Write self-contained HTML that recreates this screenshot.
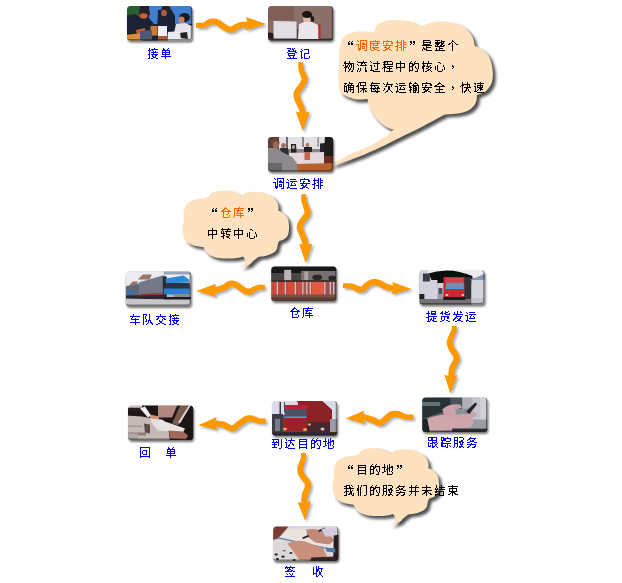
<!DOCTYPE html>
<html><head><meta charset="utf-8"><title>物流流程</title>
<style>
html,body{margin:0;padding:0;background:#fff;}
body{width:622px;height:583px;overflow:hidden;position:relative;font-family:"Liberation Sans",sans-serif;}
svg{position:absolute;left:0;top:0;display:block;}
</style></head><body>
<svg width="622" height="583" viewBox="0 0 622 583">
<defs><path id="q63a5" shape-rendering="crispEdges" d="M2 3h1v1h-1zM7 3h1v1h-1zM2 4h1v1h-1zM4 4h7v1h-7zM1 5h3v1h-3zM5 5h1v1h-1zM2 6h1v1h-1zM6 6h1v1h-1zM8 6h1v1h-1zM2 7h1v1h-1zM4 7h7v1h-7zM2 8h1v1h-1zM6 8h1v1h-1zM1 9h2v1h-2zM4 9h7v1h-7zM2 10h1v1h-1zM5 10h1v1h-1zM8 10h2v1h-2zM2 11h1v1h-1zM5 11h2v1h-2zM8 11h1v1h-1zM2 12h1v1h-1zM6 12h3v1h-3zM1 13h2v1h-2zM4 13h2v1h-2zM9 13h2v1h-2z"/>
<path id="q5355" shape-rendering="crispEdges" d="M3 3h1v1h-1zM8 3h1v1h-1zM3 4h2v1h-2zM7 4h1v1h-1zM2 5h8v1h-8zM2 6h1v1h-1zM5 6h1v1h-1zM9 6h1v1h-1zM2 7h8v1h-8zM2 8h1v1h-1zM5 8h1v1h-1zM9 8h1v1h-1zM2 9h8v1h-8zM5 10h1v1h-1zM1 11h10v1h-10zM5 12h1v1h-1zM5 13h1v1h-1z"/>
<path id="q767b" shape-rendering="crispEdges" d="M1 3h4v1h-4zM6 3h1v1h-1zM8 3h1v1h-1zM4 4h1v1h-1zM6 4h2v1h-2zM2 5h2v1h-2zM7 5h1v1h-1zM9 5h1v1h-1zM2 6h8v1h-8zM1 7h1v1h-1zM9 7h2v1h-2zM2 8h7v1h-7zM2 9h1v1h-1zM8 9h1v1h-1zM2 10h7v1h-7zM3 11h1v1h-1zM7 11h1v1h-1zM4 12h1v1h-1zM7 12h1v1h-1zM1 13h10v1h-10z"/>
<path id="q8bb0" shape-rendering="crispEdges" d="M2 4h1v1h-1zM5 4h5v1h-5zM3 5h1v1h-1zM9 5h1v1h-1zM1 6h2v1h-2zM9 6h1v1h-1zM2 7h1v1h-1zM9 7h1v1h-1zM2 8h1v1h-1zM5 8h5v1h-5zM2 9h1v1h-1zM5 9h1v1h-1zM2 10h1v1h-1zM5 10h1v1h-1zM2 11h1v1h-1zM5 11h1v1h-1zM10 11h1v1h-1zM2 12h2v1h-2zM5 12h1v1h-1zM10 12h1v1h-1zM2 13h1v1h-1zM5 13h5v1h-5z"/>
<path id="q8c03" shape-rendering="crispEdges" d="M1 3h1v1h-1zM4 3h7v1h-7zM2 4h1v1h-1zM4 4h1v1h-1zM10 4h1v1h-1zM4 5h1v1h-1zM7 5h1v1h-1zM10 5h1v1h-1zM4 6h1v1h-1zM6 6h3v1h-3zM10 6h1v1h-1zM0 7h3v1h-3zM4 7h1v1h-1zM6 7h5v1h-5zM2 8h1v1h-1zM4 8h1v1h-1zM10 8h1v1h-1zM2 9h1v1h-1zM4 9h1v1h-1zM6 9h3v1h-3zM10 9h1v1h-1zM2 10h1v1h-1zM4 10h1v1h-1zM6 10h1v1h-1zM8 10h1v1h-1zM10 10h1v1h-1zM2 11h3v1h-3zM6 11h3v1h-3zM10 11h1v1h-1zM2 12h3v1h-3zM10 12h1v1h-1zM3 13h1v1h-1zM8 13h3v1h-3z"/>
<path id="q8fd0" shape-rendering="crispEdges" d="M1 4h1v1h-1zM4 4h6v1h-6zM2 5h1v1h-1zM4 6h7v1h-7zM0 7h3v1h-3zM6 7h1v1h-1zM2 8h1v1h-1zM5 8h1v1h-1zM8 8h1v1h-1zM2 9h1v1h-1zM5 9h1v1h-1zM9 9h1v1h-1zM2 10h1v1h-1zM4 10h6v1h-6zM2 11h1v1h-1zM1 12h3v1h-3zM1 13h1v1h-1zM4 13h7v1h-7z"/>
<path id="q5b89" shape-rendering="crispEdges" d="M5 3h1v1h-1zM1 4h9v1h-9zM1 5h1v1h-1zM9 5h2v1h-2zM1 6h1v1h-1zM4 6h2v1h-2zM9 6h2v1h-2zM4 7h1v1h-1zM1 8h10v1h-10zM3 9h1v1h-1zM7 9h1v1h-1zM2 10h3v1h-3zM6 10h2v1h-2zM4 11h3v1h-3zM3 12h3v1h-3zM7 12h2v1h-2zM1 13h3v1h-3zM9 13h1v1h-1z"/>
<path id="q6392" shape-rendering="crispEdges" d="M2 3h1v1h-1zM6 3h1v1h-1zM8 3h1v1h-1zM2 4h1v1h-1zM6 4h1v1h-1zM8 4h1v1h-1zM1 5h6v1h-6zM8 5h3v1h-3zM2 6h1v1h-1zM6 6h1v1h-1zM8 6h1v1h-1zM2 7h1v1h-1zM5 7h2v1h-2zM8 7h3v1h-3zM2 8h2v1h-2zM6 8h1v1h-1zM8 8h1v1h-1zM0 9h3v1h-3zM6 9h1v1h-1zM8 9h1v1h-1zM2 10h1v1h-1zM4 10h3v1h-3zM8 10h3v1h-3zM2 11h1v1h-1zM6 11h1v1h-1zM8 11h1v1h-1zM2 12h1v1h-1zM6 12h1v1h-1zM8 12h1v1h-1zM1 13h2v1h-2zM6 13h1v1h-1zM8 13h1v1h-1z"/>
<path id="q8f66" shape-rendering="crispEdges" d="M4 3h1v1h-1zM4 4h1v1h-1zM1 5h10v1h-10zM3 6h1v1h-1zM2 7h1v1h-1zM6 7h1v1h-1zM2 8h8v1h-8zM6 9h1v1h-1zM6 10h1v1h-1zM1 11h10v1h-10zM6 12h1v1h-1zM6 13h1v1h-1z"/>
<path id="q961f" shape-rendering="crispEdges" d="M1 3h4v1h-4zM7 3h1v1h-1zM1 4h1v1h-1zM4 4h1v1h-1zM7 4h1v1h-1zM1 5h1v1h-1zM3 5h1v1h-1zM7 5h1v1h-1zM1 6h1v1h-1zM3 6h1v1h-1zM7 6h1v1h-1zM1 7h1v1h-1zM3 7h1v1h-1zM7 7h1v1h-1zM1 8h1v1h-1zM4 8h1v1h-1zM7 8h1v1h-1zM1 9h1v1h-1zM4 9h1v1h-1zM6 9h3v1h-3zM1 10h1v1h-1zM3 10h2v1h-2zM6 10h1v1h-1zM8 10h1v1h-1zM1 11h1v1h-1zM6 11h1v1h-1zM8 11h2v1h-2zM1 12h1v1h-1zM5 12h1v1h-1zM9 12h2v1h-2zM1 13h1v1h-1zM4 13h1v1h-1zM10 13h1v1h-1z"/>
<path id="q4ea4" shape-rendering="crispEdges" d="M5 3h1v1h-1zM5 4h1v1h-1zM1 5h10v1h-10zM3 6h1v1h-1zM7 6h1v1h-1zM2 7h2v1h-2zM8 7h2v1h-2zM1 8h2v1h-2zM7 8h1v1h-1zM9 8h2v1h-2zM4 9h1v1h-1zM7 9h1v1h-1zM4 10h3v1h-3zM5 11h2v1h-2zM3 12h2v1h-2zM7 12h2v1h-2zM1 13h2v1h-2zM9 13h2v1h-2z"/>
<path id="q4ed3" shape-rendering="crispEdges" d="M5 3h1v1h-1zM4 4h3v1h-3zM3 5h2v1h-2zM7 5h1v1h-1zM2 6h2v1h-2zM8 6h2v1h-2zM1 7h10v1h-10zM3 8h1v1h-1zM8 8h1v1h-1zM3 9h1v1h-1zM8 9h1v1h-1zM3 10h1v1h-1zM6 10h2v1h-2zM3 11h1v1h-1zM9 11h1v1h-1zM3 12h1v1h-1zM9 12h1v1h-1zM3 13h6v1h-6z"/>
<path id="q5e93" shape-rendering="crispEdges" d="M6 3h1v1h-1zM1 4h10v1h-10zM1 5h1v1h-1zM5 5h1v1h-1zM1 6h1v1h-1zM3 6h7v1h-7zM1 7h1v1h-1zM4 7h2v1h-2zM1 8h1v1h-1zM4 8h1v1h-1zM7 8h1v1h-1zM1 9h1v1h-1zM3 9h7v1h-7zM1 10h1v1h-1zM7 10h1v1h-1zM1 11h1v1h-1zM3 11h8v1h-8zM1 12h1v1h-1zM7 12h1v1h-1zM0 13h1v1h-1zM7 13h1v1h-1z"/>
<path id="q63d0" shape-rendering="crispEdges" d="M2 3h1v1h-1zM5 3h5v1h-5zM2 4h1v1h-1zM5 4h1v1h-1zM9 4h1v1h-1zM0 5h4v1h-4zM5 5h5v1h-5zM2 6h1v1h-1zM5 6h5v1h-5zM2 7h1v1h-1zM2 8h9v1h-9zM0 9h3v1h-3zM7 9h1v1h-1zM2 10h1v1h-1zM5 10h1v1h-1zM7 10h3v1h-3zM2 11h1v1h-1zM4 11h2v1h-2zM7 11h1v1h-1zM2 12h1v1h-1zM4 12h1v1h-1zM6 12h2v1h-2zM1 13h3v1h-3zM7 13h4v1h-4z"/>
<path id="q8d27" shape-rendering="crispEdges" d="M3 3h1v1h-1zM6 3h1v1h-1zM9 3h1v1h-1zM2 4h2v1h-2zM6 4h3v1h-3zM1 5h3v1h-3zM5 5h2v1h-2zM10 5h1v1h-1zM3 6h1v1h-1zM6 6h5v1h-5zM2 8h8v1h-8zM2 9h1v1h-1zM5 9h1v1h-1zM8 9h2v1h-2zM2 10h1v1h-1zM5 10h1v1h-1zM8 10h2v1h-2zM2 11h1v1h-1zM5 11h1v1h-1zM3 12h2v1h-2zM7 12h2v1h-2zM1 13h2v1h-2zM9 13h2v1h-2z"/>
<path id="q53d1" shape-rendering="crispEdges" d="M5 3h1v1h-1zM8 3h1v1h-1zM2 4h1v1h-1zM5 4h1v1h-1zM8 4h2v1h-2zM2 5h1v1h-1zM5 5h1v1h-1zM1 6h10v1h-10zM4 7h1v1h-1zM4 8h6v1h-6zM3 9h2v1h-2zM8 9h1v1h-1zM2 10h2v1h-2zM5 10h1v1h-1zM7 10h2v1h-2zM1 11h2v1h-2zM6 11h2v1h-2zM1 12h1v1h-1zM5 12h4v1h-4zM3 13h2v1h-2zM9 13h2v1h-2z"/>
<path id="q8ddf" shape-rendering="crispEdges" d="M1 3h9v1h-9zM1 4h1v1h-1zM4 4h2v1h-2zM9 4h1v1h-1zM1 5h1v1h-1zM4 5h2v1h-2zM9 5h1v1h-1zM1 6h9v1h-9zM5 7h1v1h-1zM9 7h1v1h-1zM1 8h1v1h-1zM5 8h5v1h-5zM1 9h1v1h-1zM3 9h3v1h-3zM7 9h1v1h-1zM10 9h1v1h-1zM1 10h1v1h-1zM5 10h1v1h-1zM8 10h2v1h-2zM1 11h1v1h-1zM3 11h1v1h-1zM5 11h1v1h-1zM8 11h1v1h-1zM1 12h3v1h-3zM5 12h3v1h-3zM9 12h1v1h-1zM5 13h2v1h-2zM10 13h1v1h-1z"/>
<path id="q8e2a" shape-rendering="crispEdges" d="M1 3h3v1h-3zM7 3h1v1h-1zM1 4h1v1h-1zM3 4h8v1h-8zM1 5h1v1h-1zM3 5h3v1h-3zM10 5h1v1h-1zM1 6h5v1h-5zM10 6h1v1h-1zM2 7h1v1h-1zM6 7h4v1h-4zM1 8h2v1h-2zM1 9h10v1h-10zM1 10h2v1h-2zM7 10h1v1h-1zM1 11h2v1h-2zM5 11h1v1h-1zM7 11h1v1h-1zM9 11h1v1h-1zM1 12h5v1h-5zM7 12h1v1h-1zM10 12h1v1h-1zM6 13h2v1h-2z"/>
<path id="q670d" shape-rendering="crispEdges" d="M1 3h4v1h-4zM6 3h4v1h-4zM1 4h1v1h-1zM4 4h1v1h-1zM10 4h1v1h-1zM1 5h1v1h-1zM4 5h1v1h-1zM10 5h1v1h-1zM1 6h4v1h-4zM8 6h2v1h-2zM1 7h1v1h-1zM4 7h1v1h-1zM6 7h4v1h-4zM1 8h1v1h-1zM4 8h1v1h-1zM6 8h2v1h-2zM9 8h2v1h-2zM1 9h4v1h-4zM7 9h1v1h-1zM9 9h1v1h-1zM1 10h1v1h-1zM4 10h1v1h-1zM7 10h3v1h-3zM1 11h1v1h-1zM4 11h1v1h-1zM8 11h1v1h-1zM1 12h1v1h-1zM4 12h1v1h-1zM6 12h4v1h-4zM0 13h1v1h-1zM3 13h1v1h-1zM6 13h2v1h-2zM10 13h1v1h-1z"/>
<path id="q52a1" shape-rendering="crispEdges" d="M4 3h1v1h-1zM3 4h7v1h-7zM2 5h2v1h-2zM8 5h1v1h-1zM1 6h1v1h-1zM4 6h1v1h-1zM6 6h2v1h-2zM4 7h4v1h-4zM1 8h3v1h-3zM8 8h3v1h-3zM5 9h1v1h-1zM1 10h9v1h-9zM4 11h1v1h-1zM9 11h1v1h-1zM2 12h2v1h-2zM8 12h2v1h-2zM1 13h2v1h-2zM6 13h3v1h-3z"/>
<path id="q5230" shape-rendering="crispEdges" d="M1 4h7v1h-7zM10 4h1v1h-1zM2 5h1v1h-1zM7 5h1v1h-1zM10 5h1v1h-1zM2 6h1v1h-1zM5 6h1v1h-1zM7 6h1v1h-1zM10 6h1v1h-1zM1 7h7v1h-7zM10 7h1v1h-1zM3 8h1v1h-1zM7 8h1v1h-1zM10 8h1v1h-1zM1 9h5v1h-5zM7 9h1v1h-1zM10 9h1v1h-1zM3 10h1v1h-1zM7 10h1v1h-1zM10 10h1v1h-1zM3 11h1v1h-1zM10 11h1v1h-1zM1 12h5v1h-5zM10 12h1v1h-1zM8 13h2v1h-2z"/>
<path id="q8fbe" shape-rendering="crispEdges" d="M1 3h1v1h-1zM7 3h1v1h-1zM2 4h1v1h-1zM7 4h1v1h-1zM2 5h1v1h-1zM4 5h7v1h-7zM6 6h1v1h-1zM1 7h2v1h-2zM6 7h2v1h-2zM2 8h1v1h-1zM6 8h1v1h-1zM8 8h1v1h-1zM2 9h1v1h-1zM5 9h1v1h-1zM8 9h2v1h-2zM2 10h1v1h-1zM4 10h2v1h-2zM9 10h1v1h-1zM2 11h1v1h-1zM4 11h1v1h-1zM1 12h3v1h-3zM4 13h7v1h-7z"/>
<path id="q76ee" shape-rendering="crispEdges" d="M2 4h8v1h-8zM2 5h1v1h-1zM9 5h1v1h-1zM2 6h8v1h-8zM2 7h1v1h-1zM9 7h1v1h-1zM2 8h1v1h-1zM9 8h1v1h-1zM2 9h8v1h-8zM2 10h1v1h-1zM9 10h1v1h-1zM2 11h1v1h-1zM9 11h1v1h-1zM2 12h8v1h-8zM2 13h1v1h-1zM9 13h1v1h-1z"/>
<path id="q7684" shape-rendering="crispEdges" d="M3 3h1v1h-1zM7 3h1v1h-1zM2 4h1v1h-1zM6 4h1v1h-1zM1 5h4v1h-4zM6 5h5v1h-5zM1 6h1v1h-1zM4 6h3v1h-3zM10 6h1v1h-1zM1 7h1v1h-1zM4 7h2v1h-2zM10 7h1v1h-1zM1 8h4v1h-4zM7 8h1v1h-1zM10 8h1v1h-1zM1 9h1v1h-1zM4 9h1v1h-1zM7 9h1v1h-1zM10 9h1v1h-1zM1 10h1v1h-1zM4 10h1v1h-1zM8 10h1v1h-1zM10 10h1v1h-1zM1 11h1v1h-1zM4 11h1v1h-1zM9 11h1v1h-1zM1 12h4v1h-4zM9 12h1v1h-1zM1 13h1v1h-1zM7 13h3v1h-3z"/>
<path id="q5730" shape-rendering="crispEdges" d="M2 3h1v1h-1zM7 3h1v1h-1zM2 4h1v1h-1zM5 4h1v1h-1zM7 4h1v1h-1zM2 5h1v1h-1zM5 5h1v1h-1zM7 5h1v1h-1zM9 5h2v1h-2zM0 6h4v1h-4zM5 6h1v1h-1zM7 6h4v1h-4zM2 7h1v1h-1zM5 7h3v1h-3zM10 7h1v1h-1zM2 8h1v1h-1zM4 8h2v1h-2zM7 8h1v1h-1zM10 8h1v1h-1zM2 9h1v1h-1zM5 9h1v1h-1zM7 9h1v1h-1zM10 9h1v1h-1zM2 10h2v1h-2zM5 10h1v1h-1zM7 10h1v1h-1zM9 10h1v1h-1zM0 11h2v1h-2zM5 11h1v1h-1zM10 11h1v1h-1zM5 12h1v1h-1zM10 12h1v1h-1zM5 13h5v1h-5z"/>
<path id="q56de" shape-rendering="crispEdges" d="M1 3h10v1h-10zM1 4h1v1h-1zM10 4h1v1h-1zM1 5h1v1h-1zM10 5h1v1h-1zM1 6h1v1h-1zM4 6h4v1h-4zM10 6h1v1h-1zM1 7h1v1h-1zM3 7h1v1h-1zM7 7h1v1h-1zM10 7h1v1h-1zM1 8h1v1h-1zM3 8h1v1h-1zM7 8h1v1h-1zM10 8h1v1h-1zM1 9h1v1h-1zM3 9h1v1h-1zM7 9h1v1h-1zM10 9h1v1h-1zM1 10h1v1h-1zM4 10h4v1h-4zM10 10h1v1h-1zM1 11h1v1h-1zM10 11h1v1h-1zM1 12h10v1h-10zM1 13h1v1h-1zM10 13h1v1h-1z"/>
<path id="q7b7e" shape-rendering="crispEdges" d="M2 3h1v1h-1zM6 3h1v1h-1zM1 4h10v1h-10zM1 5h1v1h-1zM3 5h1v1h-1zM5 5h1v1h-1zM8 5h1v1h-1zM4 6h3v1h-3zM3 7h2v1h-2zM7 7h2v1h-2zM1 8h7v1h-7zM9 8h2v1h-2zM2 10h1v1h-1zM5 10h1v1h-1zM8 10h1v1h-1zM3 11h1v1h-1zM6 11h1v1h-1zM8 11h1v1h-1zM7 12h1v1h-1zM1 13h10v1h-10z"/>
<path id="q6536" shape-rendering="crispEdges" d="M4 3h1v1h-1zM6 3h1v1h-1zM1 4h1v1h-1zM4 4h1v1h-1zM6 4h1v1h-1zM1 5h1v1h-1zM4 5h1v1h-1zM6 5h5v1h-5zM1 6h1v1h-1zM4 6h3v1h-3zM9 6h1v1h-1zM1 7h1v1h-1zM4 7h3v1h-3zM9 7h1v1h-1zM1 8h1v1h-1zM4 8h2v1h-2zM7 8h1v1h-1zM9 8h1v1h-1zM1 9h1v1h-1zM4 9h1v1h-1zM7 9h2v1h-2zM1 10h4v1h-4zM7 10h2v1h-2zM1 11h1v1h-1zM4 11h1v1h-1zM7 11h2v1h-2zM4 12h1v1h-1zM6 12h1v1h-1zM9 12h1v1h-1zM4 13h2v1h-2zM10 13h1v1h-1z"/>
<path id="q201c" shape-rendering="crispEdges" d="M6 4h1v1h-1zM9 4h1v1h-1zM5 5h1v1h-1zM8 5h1v1h-1zM5 6h2v1h-2zM8 6h2v1h-2zM5 7h2v1h-2zM8 7h2v1h-2z"/>
<path id="q5ea6" shape-rendering="crispEdges" d="M6 3h1v1h-1zM1 4h10v1h-10zM1 5h1v1h-1zM8 5h1v1h-1zM1 6h10v1h-10zM1 7h1v1h-1zM4 7h1v1h-1zM8 7h1v1h-1zM1 8h1v1h-1zM4 8h5v1h-5zM1 9h1v1h-1zM1 10h1v1h-1zM3 10h7v1h-7zM1 11h1v1h-1zM4 11h2v1h-2zM8 11h1v1h-1zM1 12h1v1h-1zM5 12h3v1h-3zM2 13h3v1h-3zM8 13h3v1h-3z"/>
<path id="q201d" shape-rendering="crispEdges" d="M2 4h2v1h-2zM5 4h2v1h-2zM2 5h2v1h-2zM5 5h2v1h-2zM3 6h1v1h-1zM6 6h1v1h-1zM2 7h1v1h-1zM5 7h1v1h-1z"/>
<path id="q662f" shape-rendering="crispEdges" d="M2 3h7v1h-7zM2 4h1v1h-1zM9 4h1v1h-1zM2 5h8v1h-8zM2 6h1v1h-1zM9 6h1v1h-1zM2 7h7v1h-7zM1 8h10v1h-10zM5 9h1v1h-1zM2 10h1v1h-1zM5 10h5v1h-5zM2 11h2v1h-2zM5 11h1v1h-1zM1 12h1v1h-1zM3 12h3v1h-3zM1 13h1v1h-1zM5 13h6v1h-6z"/>
<path id="q6574" shape-rendering="crispEdges" d="M1 3h5v1h-5zM7 3h1v1h-1zM3 4h1v1h-1zM7 4h4v1h-4zM1 5h7v1h-7zM9 5h1v1h-1zM1 6h5v1h-5zM7 6h3v1h-3zM2 7h3v1h-3zM7 7h2v1h-2zM1 8h1v1h-1zM3 8h1v1h-1zM6 8h2v1h-2zM9 8h2v1h-2zM1 9h9v1h-9zM5 10h1v1h-1zM2 11h1v1h-1zM5 11h4v1h-4zM2 12h1v1h-1zM5 12h1v1h-1zM1 13h10v1h-10z"/>
<path id="q4e2a" shape-rendering="crispEdges" d="M5 3h1v1h-1zM5 4h2v1h-2zM4 5h1v1h-1zM7 5h1v1h-1zM2 6h2v1h-2zM5 6h1v1h-1zM8 6h1v1h-1zM1 7h2v1h-2zM5 7h1v1h-1zM9 7h2v1h-2zM5 8h1v1h-1zM5 9h1v1h-1zM5 10h1v1h-1zM5 11h1v1h-1zM5 12h1v1h-1zM5 13h1v1h-1z"/>
<path id="q7269" shape-rendering="crispEdges" d="M2 3h1v1h-1zM6 3h1v1h-1zM1 4h2v1h-2zM6 4h1v1h-1zM1 5h10v1h-10zM2 6h1v1h-1zM5 6h1v1h-1zM7 6h2v1h-2zM10 6h1v1h-1zM0 7h1v1h-1zM2 7h1v1h-1zM4 7h1v1h-1zM6 7h1v1h-1zM8 7h1v1h-1zM10 7h1v1h-1zM2 8h3v1h-3zM6 8h1v1h-1zM8 8h1v1h-1zM10 8h1v1h-1zM1 9h3v1h-3zM5 9h1v1h-1zM8 9h1v1h-1zM10 9h1v1h-1zM2 10h1v1h-1zM5 10h1v1h-1zM7 10h1v1h-1zM10 10h1v1h-1zM2 11h1v1h-1zM6 11h2v1h-2zM10 11h1v1h-1zM2 12h1v1h-1zM6 12h1v1h-1zM9 12h1v1h-1zM2 13h1v1h-1zM5 13h1v1h-1zM8 13h2v1h-2z"/>
<path id="q6d41" shape-rendering="crispEdges" d="M1 3h1v1h-1zM7 3h1v1h-1zM2 4h9v1h-9zM5 5h2v1h-2zM8 5h1v1h-1zM1 6h1v1h-1zM5 6h1v1h-1zM9 6h1v1h-1zM2 7h1v1h-1zM4 7h7v1h-7zM9 9h1v1h-1zM2 10h1v1h-1zM4 10h1v1h-1zM9 10h1v1h-1zM2 11h1v1h-1zM4 11h1v1h-1zM9 11h1v1h-1zM1 12h1v1h-1zM4 12h1v1h-1zM9 12h2v1h-2zM1 13h1v1h-1zM3 13h1v1h-1zM9 13h2v1h-2z"/>
<path id="q8fc7" shape-rendering="crispEdges" d="M1 3h1v1h-1zM8 3h1v1h-1zM2 4h1v1h-1zM8 4h1v1h-1zM4 5h7v1h-7zM8 6h1v1h-1zM1 7h2v1h-2zM5 7h1v1h-1zM8 7h1v1h-1zM2 8h1v1h-1zM5 8h1v1h-1zM8 8h1v1h-1zM2 9h1v1h-1zM8 9h1v1h-1zM2 10h1v1h-1zM8 10h1v1h-1zM2 11h1v1h-1zM6 11h3v1h-3zM1 12h4v1h-4zM4 13h7v1h-7z"/>
<path id="q7a0b" shape-rendering="crispEdges" d="M2 3h8v1h-8zM1 4h3v1h-3zM5 4h1v1h-1zM10 4h1v1h-1zM2 5h1v1h-1zM5 5h1v1h-1zM10 5h1v1h-1zM1 6h10v1h-10zM2 7h1v1h-1zM2 8h2v1h-2zM5 8h6v1h-6zM1 9h4v1h-4zM7 9h1v1h-1zM0 10h1v1h-1zM2 10h1v1h-1zM5 10h5v1h-5zM2 11h1v1h-1zM7 11h1v1h-1zM2 12h1v1h-1zM7 12h1v1h-1zM2 13h1v1h-1zM4 13h7v1h-7z"/>
<path id="q4e2d" shape-rendering="crispEdges" d="M5 3h1v1h-1zM5 4h1v1h-1zM1 5h9v1h-9zM1 6h1v1h-1zM5 6h1v1h-1zM9 6h1v1h-1zM1 7h1v1h-1zM5 7h1v1h-1zM9 7h1v1h-1zM1 8h1v1h-1zM5 8h1v1h-1zM9 8h1v1h-1zM1 9h9v1h-9zM1 10h1v1h-1zM5 10h1v1h-1zM5 11h1v1h-1zM5 12h1v1h-1zM5 13h1v1h-1z"/>
<path id="q6838" shape-rendering="crispEdges" d="M2 3h1v1h-1zM7 3h1v1h-1zM2 4h1v1h-1zM7 4h1v1h-1zM1 5h10v1h-10zM2 6h1v1h-1zM6 6h1v1h-1zM2 7h2v1h-2zM6 7h1v1h-1zM9 7h1v1h-1zM1 8h3v1h-3zM5 8h4v1h-4zM1 9h2v1h-2zM7 9h1v1h-1zM9 9h2v1h-2zM1 10h2v1h-2zM5 10h2v1h-2zM9 10h1v1h-1zM2 11h1v1h-1zM7 11h2v1h-2zM2 12h1v1h-1zM6 12h2v1h-2zM9 12h1v1h-1zM2 13h1v1h-1zM4 13h2v1h-2zM10 13h1v1h-1z"/>
<path id="q5fc3" shape-rendering="crispEdges" d="M4 4h2v1h-2zM6 5h1v1h-1zM3 7h1v1h-1zM9 7h1v1h-1zM1 8h1v1h-1zM3 8h1v1h-1zM9 8h1v1h-1zM1 9h1v1h-1zM3 9h1v1h-1zM10 9h1v1h-1zM1 10h1v1h-1zM3 10h1v1h-1zM10 10h1v1h-1zM1 11h1v1h-1zM3 11h1v1h-1zM8 11h1v1h-1zM10 11h1v1h-1zM3 12h1v1h-1zM8 12h1v1h-1zM4 13h4v1h-4z"/>
<path id="qff0c" shape-rendering="crispEdges" d="M2 10h1v1h-1zM2 11h2v1h-2zM3 12h1v1h-1zM2 13h1v1h-1z"/>
<path id="q786e" shape-rendering="crispEdges" d="M6 3h1v1h-1zM1 4h3v1h-3zM6 4h4v1h-4zM2 5h1v1h-1zM5 5h1v1h-1zM8 5h1v1h-1zM1 6h1v1h-1zM4 6h7v1h-7zM1 7h3v1h-3zM5 7h1v1h-1zM7 7h1v1h-1zM10 7h1v1h-1zM1 8h1v1h-1zM3 8h1v1h-1zM5 8h6v1h-6zM1 9h1v1h-1zM3 9h1v1h-1zM5 9h1v1h-1zM7 9h1v1h-1zM10 9h1v1h-1zM1 10h1v1h-1zM3 10h1v1h-1zM5 10h6v1h-6zM1 11h1v1h-1zM3 11h1v1h-1zM5 11h1v1h-1zM7 11h1v1h-1zM10 11h1v1h-1zM1 12h4v1h-4zM7 12h1v1h-1zM10 12h1v1h-1zM4 13h1v1h-1zM9 13h2v1h-2z"/>
<path id="q4fdd" shape-rendering="crispEdges" d="M3 3h7v1h-7zM2 4h1v1h-1zM4 4h1v1h-1zM9 4h1v1h-1zM2 5h1v1h-1zM4 5h1v1h-1zM9 5h1v1h-1zM1 6h2v1h-2zM4 6h6v1h-6zM0 7h3v1h-3zM7 7h1v1h-1zM2 8h1v1h-1zM7 8h1v1h-1zM2 9h1v1h-1zM4 9h7v1h-7zM2 10h1v1h-1zM6 10h3v1h-3zM2 11h1v1h-1zM5 11h1v1h-1zM7 11h1v1h-1zM9 11h1v1h-1zM2 12h1v1h-1zM4 12h1v1h-1zM7 12h1v1h-1zM9 12h2v1h-2zM2 13h1v1h-1zM7 13h1v1h-1z"/>
<path id="q6bcf" shape-rendering="crispEdges" d="M3 3h1v1h-1zM2 4h9v1h-9zM2 5h1v1h-1zM1 6h8v1h-8zM2 7h1v1h-1zM5 7h1v1h-1zM9 7h1v1h-1zM2 8h1v1h-1zM6 8h1v1h-1zM8 8h2v1h-2zM1 9h10v1h-10zM2 10h1v1h-1zM4 10h2v1h-2zM8 10h1v1h-1zM2 11h1v1h-1zM6 11h1v1h-1zM8 11h1v1h-1zM2 12h9v1h-9zM7 13h2v1h-2z"/>
<path id="q6b21" shape-rendering="crispEdges" d="M5 3h1v1h-1zM1 4h1v1h-1zM5 4h1v1h-1zM2 5h1v1h-1zM4 5h7v1h-7zM4 6h1v1h-1zM9 6h1v1h-1zM3 7h2v1h-2zM6 7h2v1h-2zM9 7h1v1h-1zM6 8h2v1h-2zM2 9h1v1h-1zM6 9h2v1h-2zM2 10h1v1h-1zM6 10h2v1h-2zM1 11h1v1h-1zM5 11h1v1h-1zM8 11h1v1h-1zM4 12h2v1h-2zM9 12h1v1h-1zM3 13h1v1h-1zM10 13h1v1h-1z"/>
<path id="q8f93" shape-rendering="crispEdges" d="M2 3h1v1h-1zM7 3h1v1h-1zM1 4h3v1h-3zM6 4h3v1h-3zM1 5h1v1h-1zM5 5h1v1h-1zM9 5h1v1h-1zM1 6h1v1h-1zM4 6h7v1h-7zM1 7h2v1h-2zM5 7h3v1h-3zM10 7h1v1h-1zM1 8h3v1h-3zM5 8h1v1h-1zM7 8h2v1h-2zM10 8h1v1h-1zM2 9h1v1h-1zM5 9h4v1h-4zM10 9h1v1h-1zM2 10h2v1h-2zM5 10h1v1h-1zM7 10h2v1h-2zM10 10h1v1h-1zM1 11h2v1h-2zM5 11h4v1h-4zM10 11h1v1h-1zM2 12h1v1h-1zM5 12h1v1h-1zM7 12h1v1h-1zM10 12h1v1h-1zM2 13h1v1h-1zM5 13h3v1h-3zM9 13h2v1h-2z"/>
<path id="q5168" shape-rendering="crispEdges" d="M5 3h1v1h-1zM4 4h3v1h-3zM3 5h2v1h-2zM7 5h1v1h-1zM1 6h2v1h-2zM8 6h2v1h-2zM0 7h11v1h-11zM5 8h1v1h-1zM5 9h1v1h-1zM2 10h7v1h-7zM5 11h1v1h-1zM5 12h1v1h-1zM1 13h10v1h-10z"/>
<path id="q5feb" shape-rendering="crispEdges" d="M2 3h1v1h-1zM7 3h1v1h-1zM2 4h1v1h-1zM7 4h1v1h-1zM2 5h8v1h-8zM1 6h3v1h-3zM7 6h1v1h-1zM9 6h1v1h-1zM0 7h1v1h-1zM2 7h1v1h-1zM7 7h1v1h-1zM9 7h1v1h-1zM2 8h1v1h-1zM4 8h7v1h-7zM2 9h1v1h-1zM6 9h2v1h-2zM2 10h1v1h-1zM6 10h1v1h-1zM8 10h1v1h-1zM2 11h1v1h-1zM5 11h2v1h-2zM8 11h1v1h-1zM2 12h1v1h-1zM4 12h2v1h-2zM9 12h1v1h-1zM2 13h1v1h-1zM4 13h1v1h-1zM10 13h1v1h-1z"/>
<path id="q901f" shape-rendering="crispEdges" d="M7 3h1v1h-1zM1 4h2v1h-2zM4 4h7v1h-7zM2 5h1v1h-1zM7 5h1v1h-1zM4 6h6v1h-6zM1 7h2v1h-2zM4 7h1v1h-1zM7 7h1v1h-1zM9 7h1v1h-1zM2 8h1v1h-1zM4 8h6v1h-6zM2 9h1v1h-1zM6 9h3v1h-3zM2 10h1v1h-1zM5 10h1v1h-1zM7 10h3v1h-3zM2 11h1v1h-1zM4 11h1v1h-1zM7 11h1v1h-1zM1 12h3v1h-3zM4 13h7v1h-7z"/>
<path id="q8f6c" shape-rendering="crispEdges" d="M2 3h1v1h-1zM8 3h1v1h-1zM1 4h10v1h-10zM2 5h1v1h-1zM7 5h1v1h-1zM1 6h1v1h-1zM3 6h1v1h-1zM5 6h6v1h-6zM1 7h1v1h-1zM3 7h1v1h-1zM6 7h1v1h-1zM1 8h4v1h-4zM6 8h1v1h-1zM3 9h1v1h-1zM6 9h4v1h-4zM3 10h2v1h-2zM9 10h1v1h-1zM1 11h3v1h-3zM6 11h3v1h-3zM3 12h1v1h-1zM7 12h2v1h-2zM3 13h1v1h-1zM9 13h1v1h-1z"/>
<path id="q6211" shape-rendering="crispEdges" d="M3 3h4v1h-4zM8 3h1v1h-1zM1 4h3v1h-3zM6 4h1v1h-1zM9 4h1v1h-1zM3 5h1v1h-1zM6 5h2v1h-2zM1 6h10v1h-10zM3 7h1v1h-1zM7 7h1v1h-1zM3 8h1v1h-1zM7 8h1v1h-1zM9 8h1v1h-1zM2 9h4v1h-4zM7 9h2v1h-2zM1 10h1v1h-1zM3 10h1v1h-1zM7 10h2v1h-2zM3 11h1v1h-1zM6 11h3v1h-3zM10 11h1v1h-1zM3 12h1v1h-1zM5 12h2v1h-2zM8 12h1v1h-1zM10 12h1v1h-1zM1 13h3v1h-3zM9 13h2v1h-2z"/>
<path id="q4eec" shape-rendering="crispEdges" d="M2 3h1v1h-1zM5 3h1v1h-1zM7 3h4v1h-4zM2 4h1v1h-1zM5 4h1v1h-1zM10 4h1v1h-1zM2 5h1v1h-1zM4 5h1v1h-1zM10 5h1v1h-1zM1 6h2v1h-2zM4 6h1v1h-1zM10 6h1v1h-1zM1 7h2v1h-2zM4 7h1v1h-1zM10 7h1v1h-1zM1 8h2v1h-2zM4 8h1v1h-1zM10 8h1v1h-1zM2 9h1v1h-1zM4 9h1v1h-1zM10 9h1v1h-1zM2 10h1v1h-1zM4 10h1v1h-1zM10 10h1v1h-1zM2 11h1v1h-1zM4 11h1v1h-1zM10 11h1v1h-1zM2 12h1v1h-1zM4 12h1v1h-1zM10 12h1v1h-1zM2 13h1v1h-1zM4 13h1v1h-1zM8 13h2v1h-2z"/>
<path id="q5e76" shape-rendering="crispEdges" d="M3 3h1v1h-1zM8 3h1v1h-1zM3 4h1v1h-1zM7 4h1v1h-1zM1 5h10v1h-10zM3 6h1v1h-1zM7 6h1v1h-1zM3 7h1v1h-1zM7 7h1v1h-1zM3 8h1v1h-1zM7 8h1v1h-1zM1 9h10v1h-10zM3 10h1v1h-1zM7 10h1v1h-1zM3 11h1v1h-1zM7 11h1v1h-1zM2 12h1v1h-1zM7 12h1v1h-1zM1 13h1v1h-1zM7 13h1v1h-1z"/>
<path id="q672a" shape-rendering="crispEdges" d="M5 3h1v1h-1zM5 4h1v1h-1zM1 5h9v1h-9zM5 6h1v1h-1zM5 7h1v1h-1zM1 8h10v1h-10zM4 9h3v1h-3zM3 10h3v1h-3zM7 10h1v1h-1zM2 11h2v1h-2zM5 11h1v1h-1zM8 11h2v1h-2zM1 12h1v1h-1zM5 12h1v1h-1zM9 12h2v1h-2zM5 13h1v1h-1z"/>
<path id="q7ed3" shape-rendering="crispEdges" d="M2 3h1v1h-1zM7 3h1v1h-1zM2 4h1v1h-1zM7 4h1v1h-1zM2 5h1v1h-1zM5 5h6v1h-6zM1 6h1v1h-1zM3 6h1v1h-1zM7 6h1v1h-1zM1 7h3v1h-3zM5 7h6v1h-6zM2 8h1v1h-1zM1 9h9v1h-9zM1 10h2v1h-2zM5 10h1v1h-1zM9 10h1v1h-1zM5 11h1v1h-1zM9 11h1v1h-1zM1 12h5v1h-5zM9 12h1v1h-1zM1 13h1v1h-1zM5 13h5v1h-5z"/>
<path id="q675f" shape-rendering="crispEdges" d="M5 3h1v1h-1zM1 4h10v1h-10zM5 5h1v1h-1zM2 6h8v1h-8zM2 7h1v1h-1zM5 7h1v1h-1zM9 7h1v1h-1zM2 8h1v1h-1zM5 8h1v1h-1zM9 8h1v1h-1zM2 9h8v1h-8zM4 10h4v1h-4zM3 11h1v1h-1zM5 11h1v1h-1zM7 11h2v1h-2zM1 12h2v1h-2zM5 12h1v1h-1zM8 12h3v1h-3zM5 13h1v1h-1z"/>
<path id="ashaft" d="M-0.03,2.45 L0.30,2.46 L0.74,2.49 L1.27,2.52 L1.89,2.55 L2.56,2.59 L3.26,2.62 L3.98,2.65 L4.71,2.67 L5.41,2.68 L6.09,2.68 L6.74,2.65 L7.35,2.60 L7.92,2.51 L8.45,2.39 L8.95,2.25 L9.41,2.08 L9.82,1.90 L10.19,1.70 L10.51,1.52 L10.77,1.35 L10.99,1.22 L11.15,1.11 L11.27,1.05 L11.41,0.97 L11.67,0.84 L11.96,0.66 L12.22,0.49 L12.45,0.32 L12.64,0.18 L12.81,0.06 L12.94,-0.04 L13.05,-0.12 L13.13,-0.17 L13.19,-0.20 L13.23,-0.21 L13.29,-0.23 L13.41,-0.27 L13.56,-0.33 L13.69,-0.37 L13.83,-0.42 L13.96,-0.45 L14.09,-0.49 L14.22,-0.52 L14.35,-0.54 L14.49,-0.56 L14.63,-0.58 L14.78,-0.60 L14.96,-0.61 L15.17,-0.63 L15.39,-0.64 L15.61,-0.67 L15.84,-0.69 L16.07,-0.71 L16.29,-0.72 L16.52,-0.73 L16.74,-0.73 L16.96,-0.72 L17.18,-0.71 L17.39,-0.70 L17.61,-0.67 L17.87,-0.63 L18.15,-0.59 L18.43,-0.54 L18.69,-0.49 L18.96,-0.43 L19.22,-0.37 L19.47,-0.30 L19.72,-0.23 L19.96,-0.15 L20.19,-0.06 L20.41,0.04 L20.62,0.13 L20.82,0.24 L21.03,0.37 L21.27,0.53 L21.54,0.72 L21.82,0.93 L22.11,1.16 L22.43,1.40 L22.75,1.66 L23.09,1.94 L23.45,2.22 L23.82,2.50 L24.17,2.77 L24.49,3.00 L24.80,3.24 L25.12,3.49 L25.46,3.75 L25.80,4.02 L26.16,4.30 L26.52,4.58 L26.90,4.86 L27.29,5.13 L27.69,5.40 L28.11,5.67 L28.53,5.91 L28.92,6.11 L29.30,6.29 L29.68,6.47 L30.06,6.63 L30.45,6.77 L30.84,6.91 L31.24,7.03 L31.65,7.13 L32.06,7.22 L32.48,7.29 L32.90,7.35 L33.34,7.38 L33.79,7.39 L34.25,7.38 L34.69,7.35 L35.12,7.30 L35.54,7.23 L35.95,7.15 L36.34,7.05 L36.72,6.95 L37.08,6.84 L37.44,6.73 L37.78,6.61 L38.14,6.47 L38.56,6.30 L38.97,6.09 L39.34,5.88 L39.67,5.67 L39.95,5.48 L40.20,5.31 L40.43,5.15 L40.63,5.01 L40.81,4.89 L40.99,4.78 L41.16,4.68 L41.36,4.58 L41.65,4.45 L41.98,4.29 L42.34,4.13 L42.72,3.97 L43.11,3.80 L43.50,3.63 L43.89,3.46 L44.28,3.30 L44.64,3.15 L44.99,3.02 L45.30,2.91 L45.57,2.81 L45.81,2.74 L46.03,2.67 L46.24,2.62 L46.43,2.58 L46.63,2.54 L46.82,2.51 L47.02,2.48 L47.24,2.46 L47.46,2.43 L47.70,2.41 L47.96,2.38 L48.21,2.36 L48.43,2.34 L48.64,2.32 L48.88,2.31 L49.13,2.30 L49.39,2.30 L49.65,2.30 L49.91,2.30 L50.15,2.30 L50.38,2.30 L50.60,2.30 L50.80,2.30 L50.97,2.30 L51.03,-3.50 L50.91,-3.50 L50.75,-3.51 L50.55,-3.52 L50.31,-3.53 L50.05,-3.55 L49.76,-3.56 L49.45,-3.57 L49.13,-3.58 L48.80,-3.58 L48.46,-3.58 L48.12,-3.57 L47.79,-3.56 L47.52,-3.54 L47.27,-3.53 L47.00,-3.52 L46.71,-3.50 L46.41,-3.48 L46.09,-3.45 L45.75,-3.41 L45.40,-3.36 L45.03,-3.29 L44.64,-3.22 L44.24,-3.12 L43.83,-3.01 L43.40,-2.89 L42.97,-2.75 L42.52,-2.60 L42.07,-2.44 L41.61,-2.27 L41.16,-2.09 L40.70,-1.91 L40.26,-1.72 L39.83,-1.53 L39.42,-1.35 L39.03,-1.17 L38.64,-0.98 L38.23,-0.77 L37.83,-0.54 L37.47,-0.32 L37.16,-0.11 L36.88,0.08 L36.65,0.24 L36.45,0.38 L36.28,0.50 L36.15,0.58 L36.05,0.64 L35.97,0.68 L35.86,0.73 L35.67,0.80 L35.45,0.88 L35.24,0.95 L35.02,1.01 L34.82,1.07 L34.62,1.12 L34.43,1.16 L34.25,1.19 L34.08,1.21 L33.93,1.22 L33.79,1.22 L33.66,1.22 L33.52,1.21 L33.37,1.19 L33.21,1.17 L33.05,1.13 L32.89,1.09 L32.72,1.04 L32.54,0.98 L32.35,0.91 L32.14,0.82 L31.93,0.72 L31.69,0.61 L31.47,0.49 L31.26,0.38 L31.03,0.24 L30.78,0.07 L30.51,-0.12 L30.21,-0.34 L29.90,-0.58 L29.58,-0.83 L29.25,-1.09 L28.90,-1.36 L28.54,-1.63 L28.18,-1.91 L27.83,-2.17 L27.52,-2.40 L27.22,-2.62 L26.91,-2.87 L26.58,-3.13 L26.24,-3.40 L25.89,-3.68 L25.52,-3.96 L25.13,-4.25 L24.73,-4.53 L24.30,-4.81 L23.85,-5.08 L23.38,-5.33 L22.92,-5.55 L22.47,-5.74 L22.02,-5.91 L21.58,-6.06 L21.14,-6.19 L20.72,-6.30 L20.30,-6.40 L19.90,-6.49 L19.50,-6.56 L19.12,-6.62 L18.76,-6.68 L18.39,-6.73 L17.98,-6.78 L17.57,-6.81 L17.17,-6.83 L16.77,-6.83 L16.39,-6.83 L16.02,-6.82 L15.66,-6.80 L15.31,-6.77 L14.97,-6.74 L14.65,-6.70 L14.34,-6.64 L14.04,-6.59 L13.73,-6.52 L13.41,-6.44 L13.10,-6.36 L12.80,-6.27 L12.51,-6.18 L12.23,-6.08 L11.95,-5.97 L11.69,-5.86 L11.44,-5.74 L11.20,-5.63 L10.96,-5.51 L10.71,-5.37 L10.41,-5.20 L10.11,-5.01 L9.84,-4.82 L9.61,-4.64 L9.42,-4.48 L9.25,-4.33 L9.11,-4.21 L9.00,-4.10 L8.90,-4.01 L8.81,-3.94 L8.73,-3.87 L8.59,-3.77 L8.33,-3.61 L8.06,-3.42 L7.84,-3.25 L7.67,-3.12 L7.54,-3.01 L7.43,-2.93 L7.34,-2.86 L7.26,-2.81 L7.16,-2.75 L7.03,-2.70 L6.86,-2.65 L6.65,-2.60 L6.33,-2.56 L5.87,-2.52 L5.32,-2.49 L4.70,-2.46 L4.04,-2.45 L3.36,-2.44 L2.69,-2.44 L2.04,-2.45 L1.43,-2.45 L0.88,-2.45 L0.40,-2.45 L0.03,-2.45 Z"/><path id="ahead" d="M49.6,-8.2 L70,-1.6 L49.6,5.4 L51,-1 Z"/>
<clipPath id="pclip"><rect x="0" y="0" width="65.2" height="34.5" rx="3.5"/></clipPath>
<filter id="pblur" x="-10%" y="-10%" width="120%" height="120%"><feGaussianBlur stdDeviation="0.75"/></filter>
<filter id="pshadow" x="-20%" y="-30%" width="140%" height="160%"><feGaussianBlur stdDeviation="1.2"/><feOffset dx="1" dy="1.5"/></filter>
<filter id="ashadow" x="-20%" y="-50%" width="140%" height="200%" color-interpolation-filters="sRGB"><feGaussianBlur in="SourceAlpha" stdDeviation="1.3" result="b"/><feOffset in="b" dx="1.5" dy="2" result="o"/><feFlood flood-color="#707890" flood-opacity="0.55"/><feComposite in2="o" operator="in" result="s"/><feMerge><feMergeNode in="s"/><feMergeNode in="SourceGraphic"/></feMerge></filter>
<filter id="cshadow" x="-10%" y="-10%" width="130%" height="130%" color-interpolation-filters="sRGB"><feGaussianBlur in="SourceAlpha" stdDeviation="1.6" result="b"/><feOffset in="b" dx="3" dy="3" result="o"/><feFlood flood-color="#303030" flood-opacity="0.85"/><feComposite in2="o" operator="in" result="s"/><feMerge><feMergeNode in="s"/><feMergeNode in="SourceGraphic"/></feMerge></filter></defs>
<path d="M339.0,64.0 C339.2,61.0 339.2,50.5 340.0,46.0 C340.8,41.5 341.8,39.3 344.0,37.0 C346.2,34.7 349.8,33.2 353.0,32.3 C356.2,31.4 359.5,31.6 363.0,31.5 C366.5,31.4 372.2,31.9 374.0,32.0 C374.7,30.7 375.7,25.9 378.0,24.0 C380.3,22.1 384.3,21.1 388.0,20.5 C391.7,19.9 396.0,20.1 400.0,20.3 C404.0,20.6 408.5,20.9 412.0,22.0 C415.5,23.1 419.5,26.2 421.0,27.0 C422.7,26.2 427.5,23.4 431.0,22.5 C434.5,21.6 438.0,21.3 442.0,21.4 C446.0,21.5 451.2,21.9 455.0,23.0 C458.8,24.1 462.2,25.8 465.0,28.0 C467.8,30.2 470.3,33.0 472.0,36.0 C473.7,39.0 474.5,44.3 475.0,46.0 C476.2,46.6 479.7,47.8 482.0,49.6 C484.3,51.4 487.2,53.6 489.0,56.8 C490.8,60.0 492.0,64.8 492.5,69.0 C493.0,73.2 493.1,78.3 492.0,82.0 C490.9,85.7 488.5,88.8 486.0,91.0 C483.5,93.2 478.5,94.3 477.0,95.0 C476.8,96.2 477.0,100.0 476.0,102.3 C475.0,104.6 473.2,107.1 471.0,108.8 C468.8,110.5 466.0,111.6 463.0,112.5 C460.0,113.4 456.0,113.7 453.0,114.0 C450.0,114.3 446.3,114.4 445.0,114.5 C441.6,116.3 431.1,122.0 424.5,125.4 C417.9,128.8 411.6,131.9 405.2,135.1 C398.8,138.3 392.3,141.6 385.9,144.7 C379.5,147.8 371.8,151.2 366.6,153.4 C361.5,155.6 359.6,156.3 355.0,158.0 C350.4,159.7 343.5,162.2 339.0,163.5 C334.5,164.8 329.8,165.6 328.0,166.0 C329.8,165.0 334.5,162.4 339.0,160.1 C343.5,157.8 350.4,154.1 355.0,152.0 C359.6,149.9 362.1,149.8 366.6,147.6 C371.1,145.4 378.1,141.4 382.0,139.0 C385.9,136.6 387.7,134.9 389.8,133.2 C391.9,131.5 393.6,129.5 394.6,128.6 C395.6,127.7 395.8,127.8 396.0,127.6 C395.4,127.9 394.4,129.3 392.7,129.2 C391.0,129.1 388.7,128.5 386.0,126.8 C383.3,125.1 379.3,121.8 376.6,118.8 C373.9,115.8 371.5,112.3 370.0,109.0 C368.5,105.7 367.9,100.7 367.5,99.0 C366.4,99.1 363.4,99.5 361.0,99.5 C358.6,99.5 356.1,99.6 353.0,98.7 C349.9,97.8 344.6,95.8 342.3,94.0 C340.0,92.2 339.9,91.0 339.3,88.0 C338.7,85.0 338.6,80.0 338.5,76.0 C338.4,72.0 338.9,66.0 339.0,64.0 Z" fill="#fee1bf" filter="url(#cshadow)"/>
<path d="M184.1,221.7 C184.0,220.6 183.5,217.2 183.6,215.0 C183.7,212.8 184.0,210.4 184.7,208.3 C185.4,206.2 186.3,204.2 188.0,202.7 C189.7,201.2 192.3,200.1 194.7,199.4 C197.1,198.7 200.3,199.0 202.5,198.6 C204.7,198.2 207.2,197.3 208.1,197.1 C208.7,196.4 209.8,193.9 211.4,192.9 C213.1,191.9 215.5,191.5 218.0,191.1 C220.5,190.7 223.4,190.4 226.3,190.6 C229.2,190.8 232.9,191.3 235.3,192.3 C237.7,193.3 240.0,195.7 240.9,196.4 C241.5,195.9 242.4,194.2 244.3,193.4 C246.2,192.6 249.1,192.0 252.1,191.8 C255.1,191.6 259.1,191.6 262.3,192.3 C265.5,193.1 268.9,194.7 271.3,196.3 C273.7,197.9 275.7,200.1 276.9,202.0 C278.1,203.9 278.4,206.2 278.6,207.6 C278.8,209.0 278.4,209.9 278.3,210.4 C278.9,210.7 280.3,211.1 281.8,212.3 C283.3,213.5 286.1,215.6 287.3,217.8 C288.5,220.0 288.8,223.0 289.0,225.6 C289.2,228.2 289.0,231.2 288.4,233.4 C287.8,235.6 286.7,237.2 285.1,238.5 C283.5,239.8 280.0,240.8 279.0,241.2 C278.8,241.8 278.2,243.2 277.8,244.5 C277.4,245.8 277.4,247.7 276.8,249.0 C276.2,250.3 275.8,251.3 274.0,252.4 C272.2,253.5 268.7,254.9 266.1,255.7 C263.5,256.4 259.6,256.7 258.3,256.9 C257.6,257.5 255.5,259.0 254.0,260.3 C252.5,261.6 251.4,263.5 249.1,264.7 C246.8,265.9 241.4,267.0 239.9,267.5 C240.6,267.0 243.2,265.5 244.1,264.3 C245.0,263.1 245.4,261.4 245.2,260.1 C245.0,258.8 243.4,257.0 243.1,256.4 C242.1,256.7 239.6,257.6 236.8,258.0 C234.0,258.4 229.8,258.6 226.3,258.5 C222.8,258.4 218.9,258.2 215.9,257.5 C212.9,256.8 210.5,255.6 208.6,254.3 C206.7,253.0 205.2,250.7 204.4,249.6 C203.6,248.5 204.0,247.8 203.9,247.5 C203.3,247.4 202.2,247.2 200.3,246.8 C198.4,246.4 194.9,246.1 192.5,245.1 C190.1,244.1 187.4,242.6 185.8,240.6 C184.2,238.6 183.6,235.2 183.0,232.8 C182.4,230.4 182.3,227.9 182.5,226.1 C182.7,224.2 183.8,222.4 184.1,221.7 Z" fill="#fee1bf" filter="url(#cshadow)"/>
<path d="M334.1,479.2 C334.0,478.1 333.5,474.7 333.6,472.5 C333.7,470.3 334.0,467.9 334.7,465.8 C335.4,463.8 336.3,461.7 338.0,460.2 C339.7,458.7 342.3,457.6 344.7,456.9 C347.1,456.2 350.3,456.5 352.5,456.1 C354.7,455.7 357.2,454.9 358.1,454.6 C358.7,453.9 359.8,451.4 361.4,450.4 C363.0,449.4 365.5,449.0 368.0,448.6 C370.5,448.2 373.4,447.9 376.3,448.1 C379.2,448.3 382.9,448.8 385.3,449.8 C387.7,450.8 390.0,453.2 390.9,453.9 C391.5,453.4 392.4,451.7 394.3,450.9 C396.2,450.1 399.1,449.5 402.1,449.3 C405.1,449.1 409.1,449.1 412.3,449.8 C415.5,450.6 418.9,452.2 421.3,453.8 C423.7,455.4 425.7,457.6 426.9,459.5 C428.1,461.4 428.4,463.7 428.6,465.1 C428.8,466.5 428.4,467.4 428.3,467.9 C428.9,468.2 430.3,468.6 431.8,469.8 C433.3,471.0 436.1,473.1 437.3,475.3 C438.5,477.5 438.8,480.5 439.0,483.1 C439.2,485.7 439.0,488.8 438.4,490.9 C437.8,493.0 436.7,494.7 435.1,496.0 C433.5,497.3 430.0,498.2 429.0,498.7 C428.8,499.2 428.2,500.7 427.8,502.0 C427.4,503.3 427.4,505.2 426.8,506.5 C426.2,507.8 425.8,508.8 424.0,509.9 C422.2,511.0 418.7,512.5 416.1,513.2 C413.5,514.0 409.6,514.2 408.3,514.4 C407.6,515.0 405.5,516.5 404.0,517.8 C402.5,519.1 401.5,521.0 399.1,522.2 C396.8,523.4 391.4,524.5 389.9,525.0 C390.6,524.5 393.2,523.0 394.1,521.8 C395.0,520.6 395.4,518.9 395.2,517.6 C395.0,516.3 393.5,514.5 393.1,513.9 C392.1,514.2 389.6,515.1 386.8,515.5 C384.0,515.9 379.8,516.1 376.3,516.0 C372.8,515.9 368.8,515.7 365.9,515.0 C362.9,514.3 360.5,513.1 358.6,511.8 C356.7,510.5 355.2,508.2 354.4,507.1 C353.6,506.0 354.0,505.4 353.9,505.0 C353.3,504.9 352.2,504.7 350.3,504.3 C348.4,503.9 344.9,503.6 342.5,502.6 C340.1,501.6 337.4,500.2 335.8,498.1 C334.2,496.1 333.6,492.7 333.0,490.3 C332.4,487.9 332.3,485.5 332.5,483.6 C332.7,481.8 333.8,479.9 334.1,479.2 Z" fill="#fee1bf" filter="url(#cshadow)"/>
<g transform="translate(127.0 6.0)"><rect x="0" y="0" width="65.2" height="34.5" rx="3.5" fill="#000" opacity="0.55" filter="url(#pshadow)"/><g clip-path="url(#pclip)"><g filter="url(#pblur)"><rect x="-2" y="-2" width="70" height="40" fill="#1c2436" /><rect x="22" y="-2" width="46" height="20" fill="#3f7fd0" /><path d="M-2,-2 L13,-2 L12,12 L-2,13 Z" fill="#2f5c30" /><path d="M-2,10 L8,8 L14,12 L22,12 L27,18 L27,28 L-2,30 Z" fill="#1a2133" /><ellipse cx="17.5" cy="7" rx="5.5" ry="5.5" fill="#2a2424" /><ellipse cx="16.5" cy="10" rx="4" ry="2.8" fill="#c8603e" /><path d="M31,4 L44,3 L48,10 L48,26 L30,24 Z" fill="#1b2235" /><ellipse cx="39" cy="3" rx="4.5" ry="3.5" fill="#222222" /><ellipse cx="37" cy="7" rx="2.8" ry="3.2" fill="#a85a48" /><ellipse cx="57.5" cy="11.5" rx="5.5" ry="4.5" fill="#1a1a1c" /><ellipse cx="54.5" cy="14" rx="3" ry="3.5" fill="#c88262" /><path d="M49,18 L58,17 L65,20 L66,36 L45,36 Z" fill="#e6e3ec" /><path d="M52,27 L60,26 L61,33 L53,32 Z" fill="#242428" /><rect x="31" y="20" width="9" height="10" fill="#efedf3" /><path d="M41,26 L53,25 L54,35 L40,35 Z" fill="#ebe9f0" /><rect x="23.5" y="20" width="7" height="9.5" fill="#cf7a32" /><path d="M9,24 L18,22 L19,28 L10,29 Z" fill="#bf6032" /><path d="M-2,29 L15,27 L15,36 L-2,36 Z" fill="#e08c34" /><path d="M13,25 L25,24 L25,34 L13,34 Z" fill="#4c5a70" /><rect x="31" y="30" width="10" height="6" fill="#a45c30" /></g><rect x="-1" y="-1" width="65.6" height="34.9" rx="3.5" fill="none" stroke="#1a1a1a" stroke-opacity="0.5" stroke-width="1.6"/></g></g>
<g transform="translate(268.0 6.0)"><rect x="0" y="0" width="65.2" height="34.5" rx="3.5" fill="#000" opacity="0.55" filter="url(#pshadow)"/><g clip-path="url(#pclip)"><g filter="url(#pblur)"><rect x="-2" y="-2" width="70" height="40" fill="#876a60" /><rect x="26" y="-2" width="42" height="40" fill="#8a7470" opacity="0.7"/><rect x="-2" y="-2" width="28" height="16" fill="#7e5e52" opacity="0.7"/><path d="M5.5,15 L28.5,15.5 L28.5,33 L5.5,33 Z" fill="#e2dde2" /><path d="M-2,26 L5,27 L6,36 L-2,36 Z" fill="#2c1c1a" /><rect x="-2" y="32.5" width="70" height="4" fill="#4a3a36" /><rect x="29" y="23" width="4" height="10" fill="#4a4044" /><ellipse cx="39" cy="13" rx="3.8" ry="4.2" fill="#dcbcac" /><ellipse cx="39" cy="8.5" rx="5" ry="3.5" fill="#1c1214" /><path d="M42,9 L46,11 L46,16 L43,15 Z" fill="#1c1214" /><path d="M31,18 L36,16 L44,16 L50,19 L52,33 L30,33 Z" fill="#ebe6ec" /><rect x="50.3" y="18" width="2.2" height="15" fill="#c42a22" /></g><rect x="-1" y="-1" width="65.6" height="34.9" rx="3.5" fill="none" stroke="#1a1a1a" stroke-opacity="0.5" stroke-width="1.6"/></g></g>
<g transform="translate(268.0 137.0)"><rect x="0" y="0" width="65.2" height="34.5" rx="3.5" fill="#000" opacity="0.55" filter="url(#pshadow)"/><g clip-path="url(#pclip)"><g filter="url(#pblur)"><rect x="-2" y="-2" width="70" height="40" fill="#8a8588" /><rect x="11" y="-2" width="46" height="14" fill="#e2e0e4" /><rect x="18" y="-2" width="2" height="14" fill="#6a6a6e" /><rect x="34" y="-2" width="2" height="12" fill="#8a8a8e" /><rect x="49.4" y="-2" width="1.4" height="12" fill="#8a8a8e" /><rect x="-2" y="-2" width="13" height="14" fill="#5c3c32" /><ellipse cx="7" cy="6" rx="4.5" ry="5" fill="#6a4638" /><ellipse cx="8" cy="8" rx="3" ry="3.5" fill="#9a6c58" /><path d="M20,16 L58,15 L58,28 L20,28 Z" fill="#e4d8dc" /><rect x="36.5" y="15" width="5.5" height="8" fill="#c06848" /><path d="M56,18 L68,18 L68,30 L56,30 Z" fill="#6a2a1c" /><path d="M28,27 L68,26 L68,36 L28,36 Z" fill="#b8602e" /><ellipse cx="15.5" cy="8.5" rx="2.3" ry="2.6" fill="#9a7060" /><path d="M12,11 L20,11 L21,18 L13,18 Z" fill="#2e2e34" /><path d="M23,7 L28,7 L28.5,15.5 L23,15.5 Z" fill="#222224" /><ellipse cx="25.5" cy="10" rx="1.6" ry="2" fill="#c8a090" /><ellipse cx="39.5" cy="8" rx="1.8" ry="2.2" fill="#b07a60" /><path d="M36,10 L44,10 L44,15 L36,15 Z" fill="#24242e" /><path d="M52,6.5 L57.5,6 L57.5,15 L52,15 Z" fill="#24242a" /><path d="M57,-2 L68,-2 L68,19 L56,19 Z" fill="#1a1a1a" /><path d="M-2,11 L8,11 L16,16 L24,20 L29,26 L30,36 L-2,36 Z" fill="#8c8a8c" /><rect x="-2" y="26" width="16" height="10" fill="#6a686a" /></g><rect x="-1" y="-1" width="65.6" height="34.9" rx="3.5" fill="none" stroke="#1a1a1a" stroke-opacity="0.5" stroke-width="1.6"/></g></g>
<g transform="translate(125.8 271.5)"><rect x="0" y="0" width="65.2" height="34.5" rx="3.5" fill="#000" opacity="0.55" filter="url(#pshadow)"/><g clip-path="url(#pclip)"><g filter="url(#pblur)"><rect x="-2" y="-2" width="70" height="40" fill="#b8b8be" /><rect x="-2" y="-2" width="70" height="16" fill="#ececf0" /><rect x="38" y="-2" width="30" height="5" fill="#9aa4b8" /><rect x="14" y="5" width="9" height="7" fill="#e2e2e8" /><path d="M12,8 L17,3 L26,3 L24,8 Z" fill="#9a7464" /><path d="M3,14 L7,10 L12,10 L11,14 Z" fill="#a07060" /><path d="M0,15 L14,12 L14,24 L0,25 Z" fill="#5e6878" /><rect x="1" y="19" width="5" height="4" fill="#3070c0" /><path d="M13,11 L37,4 L39,4 L39,24 L13,24 Z" fill="#747886" /><rect x="37" y="5" width="4" height="22" fill="#2c2c34" /><path d="M40,7 L58,4 L63,8 L64,11 L40,12 Z" fill="#2c8ad8" /><rect x="40" y="11.5" width="24" height="6" fill="#2a3344" /><rect x="38" y="17" width="26" height="6" fill="#2a80d0" /><rect x="48" y="22.5" width="16" height="3.5" fill="#8a8a92" /><path d="M0,24 L40,23 L40,28 L0,27 Z" fill="#2a2a32" /><rect x="38" y="25.5" width="27" height="3" fill="#1c1c22" /><path d="M14,22.5 L38,21.5 L38,23 L14,24 Z" fill="#a03030" /><rect x="-2" y="28" width="70" height="10" fill="#c8c6ca" /></g><rect x="-1" y="-1" width="65.6" height="34.9" rx="3.5" fill="none" stroke="#1a1a1a" stroke-opacity="0.5" stroke-width="1.6"/></g></g>
<g transform="translate(271.2 266.4)"><rect x="0" y="0" width="65.2" height="34.5" rx="3.5" fill="#000" opacity="0.55" filter="url(#pshadow)"/><g clip-path="url(#pclip)"><g filter="url(#pblur)"><rect x="-2" y="-2" width="70" height="40" fill="#6a4a44" /><path d="M-2,-2 L68,-2 L68,4.6 L30,4.6 L30,6.6 L-2,6.6 Z" fill="#151515" /><rect x="-2" y="6.5" width="32" height="8" fill="#4a4444" /><rect x="30" y="4.5" width="38" height="9.5" fill="#7a7070" /><rect x="13" y="3.4" width="7" height="11" fill="#bab6b6" /><rect x="33" y="5" width="4" height="9" fill="#aaa6a6" /><ellipse cx="46" cy="11" rx="5" ry="3" fill="#2a2a2a" /><ellipse cx="61" cy="11.5" rx="4" ry="2.5" fill="#2a2a2a" /><rect x="-2" y="13.8" width="70" height="1.8" fill="#3a2826" /><rect x="-2" y="15.5" width="70" height="13" fill="#a4584e" /><rect x="0" y="15.5" width="5" height="13" fill="#c8483a" /><rect x="7" y="15.5" width="6" height="13" fill="#d04232" /><rect x="16" y="15.5" width="7" height="13" fill="#d84a38" /><rect x="26" y="15.5" width="4" height="13" fill="#c85040" /><rect x="40.5" y="15.5" width="12" height="13" fill="#e45a40" /><rect x="54" y="15.5" width="4" height="13" fill="#a05050" /><rect x="58" y="15.5" width="10" height="13" fill="#8c5c5a" /><rect x="5.5" y="15.5" width="1.2" height="13" fill="#dcc4cc" /><rect x="13.5" y="15.5" width="1.2" height="13" fill="#dcc4cc" /><rect x="23.5" y="15.5" width="1.2" height="13" fill="#dcc4cc" /><rect x="31" y="15.5" width="1.2" height="13" fill="#dcc4cc" /><rect x="35" y="15.5" width="1.2" height="13" fill="#dcc4cc" /><rect x="38.5" y="15.5" width="1.2" height="13" fill="#dcc4cc" /><rect x="53" y="15.5" width="1.2" height="13" fill="#dcc4cc" /><rect x="58.5" y="15.5" width="1.2" height="13" fill="#dcc4cc" /><rect x="62" y="15.5" width="1.2" height="13" fill="#dcc4cc" /><rect x="-2" y="28" width="70" height="9" fill="#7a5246" /><rect x="-2" y="31" width="70" height="2" fill="#5e3e36" /></g><rect x="-1" y="-1" width="65.6" height="34.9" rx="3.5" fill="none" stroke="#1a1a1a" stroke-opacity="0.5" stroke-width="1.6"/></g></g>
<g transform="translate(419.4 270.0)"><rect x="0" y="0" width="65.2" height="34.5" rx="3.5" fill="#000" opacity="0.55" filter="url(#pshadow)"/><g clip-path="url(#pclip)"><g filter="url(#pblur)"><rect x="-2" y="-2" width="70" height="40" fill="#9a9aa0" /><rect x="-2" y="-2" width="70" height="10" fill="#ececf2" /><path d="M7,14 L7,4 Q30,-4 53,6 L53,14 Z" fill="#111111" /><path d="M-2,0 L8,0 L12,10 L18,10 L18,30 L-2,30 Z" fill="#d2d2de" /><rect x="3.5" y="3.5" width="7" height="8" fill="#3a3a42" /><rect x="18" y="13" width="7" height="11" fill="#cfd0d6" /><rect x="19" y="18" width="4" height="6" fill="#505058" /><rect x="24" y="7" width="21.5" height="22" fill="#c42a30" /><rect x="26" y="8" width="18" height="4" fill="#d84050" /><rect x="26.5" y="12.5" width="18" height="5.5" fill="#7a8aa8" /><rect x="26" y="17.5" width="19" height="1.5" fill="#40a0e0" /><ellipse cx="27.5" cy="25" rx="1.5" ry="1" fill="#f0d0b0" /><ellipse cx="43.5" cy="25" rx="1.5" ry="1" fill="#f0d0b0" /><rect x="45" y="7" width="7" height="23" fill="#30303a" /><path d="M50,10 L65,4 L68,4 L68,10 Z" fill="#8a9ab2" /><rect x="52" y="10" width="16" height="19" fill="#d6d6de" /><rect x="-2" y="24" width="7" height="6" fill="#222222" /><rect x="-2" y="29" width="56" height="8" fill="#727278" /><rect x="52" y="28" width="16" height="9" fill="#c4c4cc" /><rect x="24" y="27" width="22" height="3" fill="#1a1a1e" /></g><rect x="-1" y="-1" width="65.6" height="34.9" rx="3.5" fill="none" stroke="#1a1a1a" stroke-opacity="0.5" stroke-width="1.6"/></g></g>
<g transform="translate(422.2 397.5)"><rect x="0" y="0" width="65.2" height="34.5" rx="3.5" fill="#000" opacity="0.55" filter="url(#pshadow)"/><g clip-path="url(#pclip)"><g filter="url(#pblur)"><rect x="-2" y="-2" width="70" height="40" fill="#5a5e66" /><path d="M-2,-2 L30,-2 L28,12 L-2,22 Z" fill="#263036" /><rect x="0" y="4.5" width="18" height="4" fill="#687078" /><path d="M28,-2 L42,-2 L42,12 L28,12 Z" fill="#4e525a" /><rect x="40" y="-2" width="28" height="40" fill="#b0b0b8" /><rect x="50" y="-2" width="18" height="40" fill="#c4c4ce" /><rect x="58" y="-2" width="10" height="40" fill="#d2d2da" /><rect x="42" y="22" width="24" height="9" fill="#9c9ca6" /><path d="M3,22 Q14,17 26,17 L46,20 L52,24 L48,30 L30,33 L6,34 Z" fill="#cfa6ac" /><path d="M20,12 Q26,6 38,7 L40,10 L34,12 L50,13 L55,17 L52,20 L40,22 L22,18 Z" fill="#cba2a8" /><path d="M33,11.5 L48,11 L49,16 L34,17 Z" fill="#8a9098" /><path d="M44,14 L53,5 L55,6.5 L47,16.5 Z" fill="#222226" /><path d="M-2,22 L5,21 L8,36 L-2,36 Z" fill="#1c2028" /><rect x="30" y="31" width="38" height="6" fill="#2a2e36" /></g><rect x="-1" y="-1" width="65.6" height="34.9" rx="3.5" fill="none" stroke="#1a1a1a" stroke-opacity="0.5" stroke-width="1.6"/></g></g>
<g transform="translate(272.0 401.0)"><rect x="0" y="0" width="65.2" height="34.5" rx="3.5" fill="#000" opacity="0.55" filter="url(#pshadow)"/><g clip-path="url(#pclip)"><g filter="url(#pblur)"><rect x="-2" y="-2" width="70" height="40" fill="#6a4a52" /><rect x="-2" y="-2" width="28" height="16" fill="#dadaea" /><path d="M48,-2 L68,-2 L68,19 L60,19 L60,9 Z" fill="#d8dce8" /><rect x="7.5" y="1" width="1.5" height="16" fill="#3a3a44" /><rect x="12" y="1" width="1" height="10" fill="#50505a" /><rect x="-2" y="13" width="13" height="19" fill="#3c3c46" /><rect x="3" y="18" width="5" height="12" fill="#7a7a86" /><path d="M24,-2 L48,-2 L60,9 L60,21.5 L35,21.5 Z" fill="#8a2028" /><rect x="13" y="4" width="23" height="4" fill="#b02838" /><rect x="12.5" y="8" width="22" height="8" fill="#4c5262" /><rect x="12.5" y="15.5" width="22" height="1.5" fill="#4aa0d8" /><rect x="11.5" y="17" width="24" height="13.5" fill="#9a2028" /><rect x="35.5" y="21" width="25" height="10.5" fill="#46282e" /><ellipse cx="13" cy="28" rx="2" ry="1.6" fill="#f0a868" /><ellipse cx="33" cy="28.5" rx="2" ry="1.6" fill="#f0a868" /><ellipse cx="37.5" cy="23.5" rx="1.5" ry="1.2" fill="#f0a060" /><ellipse cx="50.5" cy="28" rx="2" ry="1.5" fill="#c8c8d0" /><rect x="58" y="18" width="10" height="14" fill="#9a9aa8" /><rect x="-2" y="31" width="70" height="6" fill="#302a32" /></g><rect x="-1" y="-1" width="65.6" height="34.9" rx="3.5" fill="none" stroke="#1a1a1a" stroke-opacity="0.5" stroke-width="1.6"/></g></g>
<g transform="translate(128.0 405.5)"><rect x="0" y="0" width="65.2" height="34.5" rx="3.5" fill="#000" opacity="0.55" filter="url(#pshadow)"/><g clip-path="url(#pclip)"><g filter="url(#pblur)"><rect x="-2" y="-2" width="70" height="40" fill="#1a1414" /><rect x="-2" y="-2" width="20" height="8" fill="#2a1c1c" /><rect x="-2" y="-2" width="16" height="4.2" fill="#d6c6c6" /><path d="M-2,10 L14,11 L30,14 L40,20 L42,36 L-2,36 Z" fill="#c6bab6" /><rect x="-2" y="27" width="20" height="3" fill="#8a7c7a" /><rect x="-2" y="20" width="16" height="1.5" fill="#a89a98" /><path d="M12,3 L17,1 L23,10 L20,12 Z" fill="#f2f0f0" /><path d="M22,9 L31,11 L31,14 L22,13 Z" fill="#d09474" /><path d="M22,13 L34,14 L40,18 L40,26 L30,25 L24,18 Z" fill="#e2dede" /><path d="M30,15 L40,17 L57,23 L55,27 L38,25 L30,21 Z" fill="#e8e4e4" /><path d="M16,18 L22,19 L22,28 L17,27 Z" fill="#5c4c4a" /><path d="M30,-2 L50,-2 L44,12 L30,12 Z" fill="#b08880" /><path d="M53,-2 L62,-2 L50,20 L44,18 Z" fill="#7a5a50" /><path d="M62,-2 L64,-2 L52,18 L50,17 Z" fill="#e0d0d0" /><path d="M41,25 L55,26 L60,30 L58,34 L42,33 Z" fill="#a26a5a" /><rect x="-2" y="28" width="12" height="8" fill="#b0a6a6" /></g><rect x="-1" y="-1" width="65.6" height="34.9" rx="3.5" fill="none" stroke="#1a1a1a" stroke-opacity="0.5" stroke-width="1.6"/></g></g>
<g transform="translate(273.2 526.5)"><rect x="0" y="0" width="65.2" height="34.5" rx="3.5" fill="#000" opacity="0.55" filter="url(#pshadow)"/><g clip-path="url(#pclip)"><g filter="url(#pblur)"><rect x="-2" y="-2" width="70" height="40" fill="#dcd8d8" /><path d="M-2,-2 L17,-2 L5,12 L-2,14 Z" fill="#7a3a32" /><path d="M9,9 L17,1.5 L36,1 L62,6 L61,23.5 L5,11 Z" fill="#ebe4de" /><path d="M4.5,10.5 L61,22.8 L61,24.2 L4.5,12 Z" fill="#6a8ab0" /><path d="M17,-2 L48,-2 L46,2 L17,2 Z" fill="#d8d4e4" /><ellipse cx="3" cy="28" rx="1.8" ry="1.1" fill="#202020" /><ellipse cx="9.8" cy="30.2" rx="1.7" ry="1.1" fill="#202020" /><ellipse cx="17.7" cy="26.5" rx="1.6" ry="0.9" fill="#303030" /><ellipse cx="11" cy="24.2" rx="1.5" ry="0.8" fill="#606060" /><ellipse cx="4.2" cy="32.4" rx="1.6" ry="1" fill="#202020" /><ellipse cx="21" cy="33.5" rx="1.5" ry="1" fill="#202020" /><path d="M14,17 Q22,13 32,15 L50,22 L54,30 L40,35 L26,33 L18,22 Z" fill="#c89078" /><path d="M33,3 Q44,1 56,6 L61,14 L56,18 L42,16 L34,10 Z" fill="#c08a78" /><path d="M29,11 L35,8.5 L36,10 L30,12.5 Z" fill="#2a1a1a" /><path d="M45,4 L51,1 L52,2.5 L46,5.5 Z" fill="#2a1a1a" /><path d="M48,2 L63,2 L63,10 L52,10 Z" fill="#d2cae0" /><path d="M60.5,9 L68,8 L68,36 L60,36 Z" fill="#2a1e26" /><path d="M53,21 L62,22 L62,26 L53,25 Z" fill="#4a78a8" /><path d="M38,31 L62,30 L62,36 L37,36 Z" fill="#3a2228" /></g><rect x="-1" y="-1" width="65.6" height="34.9" rx="3.5" fill="none" stroke="#1a1a1a" stroke-opacity="0.5" stroke-width="1.6"/></g></g>
<g filter="url(#ashadow)" fill="#ff9900"><path d="M196.0,27.7 196.8,27.8 197.9,27.8 199.3,27.9 200.7,28.0 202.1,28.0 203.3,27.9 204.3,27.7 205.2,27.5 206.0,27.2 206.6,26.9 207.0,26.7 207.3,26.5 207.8,26.3 208.4,26.0 208.8,25.7 209.1,25.5 209.3,25.4 209.5,25.3 209.8,25.2 210.0,25.1 210.3,25.0 210.5,25.0 210.8,24.9 211.1,24.9 211.6,24.8 212.1,24.7 212.6,24.6 213.0,24.5 213.4,24.5 213.8,24.5 214.2,24.6 214.7,24.7 215.2,24.8 215.7,24.9 216.2,25.1 216.6,25.3 217.0,25.6 217.5,25.9 218.0,26.3 218.7,26.9 219.4,27.4 220.3,28.0 221.1,28.6 222.0,29.2 222.9,29.8 223.9,30.3 224.7,30.9 225.6,31.3 226.3,31.7 226.9,32.0 227.6,32.3 228.3,32.5 229.1,32.6 229.9,32.7 230.7,32.7 231.5,32.6 232.3,32.4 233.0,32.2 233.6,32.0 234.3,31.7 235.0,31.4 235.6,31.0 236.1,30.6 236.6,30.3 236.9,30.1 237.4,29.9 238.0,29.6 238.7,29.3 239.5,28.9 240.2,28.6 240.9,28.3 241.5,28.1 242.0,28.0 242.6,27.9 243.2,27.8 243.9,27.8 244.6,27.7 245.3,27.6 245.8,27.6 246.2,27.5 246.6,27.5 246.9,27.4 247.2,27.4 247.6,27.4 248.1,27.4 248.6,27.4 249.2,27.4 249.7,27.4 250.2,27.3 250.5,27.3 250.5,21.5 250.1,21.5 249.7,21.6 249.1,21.6 248.5,21.6 247.9,21.6 247.4,21.6 246.9,21.6 246.5,21.6 246.1,21.7 245.7,21.7 245.2,21.7 244.7,21.8 244.2,21.8 243.5,21.8 242.7,21.9 241.9,21.9 240.9,22.1 239.9,22.3 239.0,22.5 238.0,22.9 237.1,23.2 236.2,23.6 235.4,24.0 234.6,24.3 233.9,24.7 233.2,25.2 232.7,25.5 232.3,25.8 232.0,26.0 231.7,26.1 231.4,26.2 231.0,26.3 230.7,26.4 230.5,26.5 230.3,26.5 230.1,26.5 230.0,26.5 229.8,26.5 229.6,26.4 229.4,26.3 229.0,26.1 228.4,25.9 227.8,25.5 227.0,25.1 226.2,24.6 225.3,24.0 224.5,23.5 223.7,23.0 223.1,22.5 222.5,22.0 221.8,21.5 221.1,21.0 220.3,20.4 219.4,19.9 218.5,19.5 217.6,19.1 216.7,18.9 215.9,18.7 215.1,18.6 214.2,18.5 213.4,18.4 212.5,18.5 211.7,18.6 211.0,18.7 210.4,18.8 209.9,18.9 209.3,19.1 208.8,19.3 208.3,19.5 207.8,19.7 207.4,19.9 206.9,20.1 206.4,20.4 205.9,20.8 205.5,21.1 205.2,21.3 205.0,21.5 204.7,21.7 204.2,22.0 203.8,22.2 203.6,22.4 203.4,22.5 203.2,22.6 202.7,22.7 201.9,22.8 200.7,22.8 199.4,22.8 198.0,22.8 196.9,22.8 196.0,22.9Z"/><path d="M245.70,17.10 L266.00,23.90 L245.70,30.60 L248.50,24.48 Z"/></g>
<g filter="url(#ashadow)" fill="#ff9900"><path d="M298.4,62.0 298.3,62.7 298.3,63.6 298.2,64.8 298.2,66.0 298.2,67.2 298.2,68.3 298.4,69.3 298.6,70.2 298.8,71.0 299.0,71.7 299.2,72.4 299.4,73.0 299.7,73.7 300.0,74.4 300.2,75.1 300.5,75.6 300.7,76.1 300.9,76.6 301.0,77.2 301.2,77.7 301.3,78.0 301.4,78.3 301.4,78.4 301.4,78.6 301.4,78.9 301.4,79.3 301.3,79.7 301.1,80.2 300.9,80.7 300.7,81.2 300.5,81.7 300.1,82.3 299.7,83.0 299.2,83.7 298.8,84.4 298.3,85.0 297.9,85.6 297.4,86.2 296.9,86.8 296.4,87.4 295.9,88.1 295.4,88.9 295.0,89.6 294.6,90.2 294.3,91.0 293.9,91.8 293.7,92.7 293.5,93.7 293.5,94.8 293.6,95.8 293.7,96.7 293.9,97.6 294.1,98.5 294.3,99.4 294.6,100.3 295.0,101.2 295.3,101.9 295.7,102.7 296.1,103.4 296.4,104.3 296.9,105.3 297.4,106.4 297.9,107.5 298.4,108.6 298.9,109.5 299.2,110.3 299.4,110.8 299.5,111.2 299.6,111.5 299.6,111.8 299.6,112.3 299.7,112.8 299.8,113.2 299.8,113.7 299.8,114.2 299.8,114.7 299.8,115.2 299.8,115.5 305.6,115.5 305.6,115.2 305.6,114.7 305.6,114.2 305.6,113.5 305.5,112.9 305.5,112.2 305.5,111.8 305.4,111.3 305.4,110.7 305.3,110.0 305.1,109.2 304.8,108.3 304.4,107.3 304.0,106.2 303.5,105.0 303.0,103.8 302.5,102.7 302.1,101.7 301.7,100.8 301.3,100.0 301.0,99.3 300.7,98.7 300.4,98.2 300.3,97.6 300.1,97.0 299.9,96.3 299.8,95.7 299.7,95.1 299.7,94.6 299.7,94.3 299.7,94.0 299.8,93.7 299.9,93.4 300.1,93.1 300.3,92.6 300.6,92.1 300.9,91.7 301.3,91.2 301.7,90.6 302.2,90.0 302.8,89.3 303.3,88.6 303.8,87.9 304.3,87.1 304.8,86.3 305.3,85.5 305.8,84.7 306.3,83.8 306.6,82.9 306.9,82.1 307.2,81.2 307.4,80.4 307.5,79.5 307.6,78.6 307.5,77.7 307.3,76.8 307.1,76.0 306.8,75.4 306.6,74.9 306.3,74.4 306.0,73.8 305.7,73.1 305.4,72.5 305.1,72.0 304.8,71.5 304.6,71.0 304.3,70.4 304.0,69.8 303.8,69.3 303.6,68.8 303.5,68.3 303.4,67.7 303.3,66.9 303.3,65.9 303.2,64.8 303.2,63.8 303.3,62.8 303.2,62.2Z"/><path d="M295.80,111.60 L302.80,131.30 L309.70,111.60 L302.63,113.50 Z"/></g>
<g filter="url(#ashadow)" fill="#ff9900"><path d="M301.3,194.2 301.2,194.8 301.2,195.7 301.2,196.8 301.1,198.0 301.2,199.2 301.3,200.4 301.5,201.5 301.7,202.5 302.0,203.4 302.3,204.3 302.5,205.1 302.8,205.9 303.0,206.9 303.3,207.8 303.6,208.6 303.9,209.4 304.1,210.1 304.2,210.7 304.3,211.2 304.4,211.8 304.4,212.2 304.4,212.6 304.4,212.9 304.4,213.1 304.3,213.3 304.2,213.5 304.0,213.8 303.6,214.3 303.1,214.9 302.6,215.6 302.1,216.4 301.4,217.2 300.7,218.2 299.9,219.2 299.2,220.3 298.5,221.3 298.1,222.2 297.6,223.0 297.2,224.0 296.9,225.0 296.7,226.2 296.7,227.5 296.9,228.9 297.3,230.2 297.7,231.4 298.2,232.6 298.6,233.6 299.0,234.6 299.3,235.6 299.8,236.6 300.1,237.5 300.5,238.3 300.9,239.1 301.2,239.9 301.5,240.7 301.8,241.7 302.0,242.6 302.3,243.5 302.5,244.3 302.6,245.0 302.7,245.5 302.7,245.9 302.7,246.3 302.7,246.7 302.7,247.1 302.7,247.4 308.5,247.6 308.5,247.3 308.5,247.0 308.5,246.4 308.5,245.7 308.5,244.9 308.4,244.0 308.2,243.1 308.0,242.1 307.8,241.1 307.5,240.0 307.2,239.0 306.9,237.9 306.6,236.9 306.2,235.9 305.8,235.0 305.4,234.1 305.1,233.3 304.7,232.4 304.3,231.4 303.9,230.3 303.5,229.3 303.2,228.3 303.0,227.6 302.9,227.1 302.9,226.7 302.9,226.4 303.0,226.0 303.2,225.6 303.5,225.0 303.9,224.3 304.3,223.6 304.9,222.8 305.5,221.9 306.3,221.0 307.0,220.0 307.6,219.2 308.0,218.6 308.5,218.0 308.9,217.4 309.4,216.7 309.9,215.8 310.2,214.9 310.5,213.9 310.6,212.9 310.6,212.0 310.5,211.1 310.4,210.2 310.2,209.3 309.9,208.3 309.5,207.4 309.1,206.5 308.7,205.6 308.4,204.8 308.0,204.1 307.7,203.2 307.4,202.4 307.0,201.7 306.8,201.0 306.6,200.3 306.4,199.6 306.3,198.8 306.2,197.8 306.2,196.8 306.2,195.8 306.2,194.9 306.1,194.2Z"/><path d="M299.10,243.50 L305.60,263.00 L312.40,243.80 L305.53,245.50 Z"/></g>
<g filter="url(#ashadow)" fill="#ff9900"><path d="M264.9,284.9 264.3,284.8 263.4,284.7 262.3,284.7 261.1,284.6 259.8,284.6 258.5,284.7 257.3,285.0 256.3,285.4 255.3,285.8 254.4,286.2 253.6,286.5 252.7,286.9 251.8,287.3 250.9,287.8 250.2,288.2 249.6,288.5 249.2,288.6 249.0,288.7 248.8,288.7 248.4,288.7 247.9,288.6 247.4,288.4 246.8,288.2 246.2,288.0 245.7,287.8 245.2,287.5 244.6,287.1 244.1,286.7 243.4,286.3 242.8,285.8 242.3,285.4 241.8,285.0 241.2,284.5 240.5,283.9 239.7,283.3 238.8,282.7 237.9,282.2 237.0,281.8 235.9,281.3 234.8,280.9 233.7,280.6 232.4,280.4 231.1,280.5 229.9,280.7 228.9,281.0 228.0,281.3 227.2,281.7 226.5,282.1 225.6,282.6 224.9,283.3 224.3,283.8 224.0,284.1 223.7,284.4 223.5,284.5 223.2,284.6 222.8,284.7 222.3,284.9 221.6,285.1 220.8,285.3 220.0,285.6 219.1,286.0 218.2,286.4 217.3,286.7 216.5,287.1 215.8,287.4 215.3,287.5 214.9,287.6 214.6,287.7 214.2,287.7 213.8,287.7 213.4,287.7 213.0,287.7 213.0,293.5 213.2,293.5 213.6,293.5 214.2,293.5 214.9,293.5 215.8,293.4 216.7,293.3 217.7,293.0 218.6,292.7 219.6,292.3 220.5,292.0 221.3,291.6 222.0,291.4 222.6,291.2 223.3,291.0 224.0,290.9 224.7,290.6 225.6,290.3 226.5,289.9 227.4,289.3 228.1,288.7 228.6,288.2 229.0,287.9 229.3,287.7 229.5,287.5 230.0,287.3 230.5,287.0 231.0,286.8 231.4,286.7 231.7,286.6 232.0,286.6 232.4,286.6 232.9,286.8 233.6,287.0 234.4,287.4 235.1,287.7 235.8,288.1 236.3,288.4 236.7,288.7 237.2,289.1 237.8,289.6 238.5,290.2 239.2,290.8 239.9,291.3 240.5,291.7 241.3,292.2 242.1,292.7 242.9,293.2 243.8,293.6 244.7,294.0 245.5,294.3 246.5,294.5 247.6,294.7 248.7,294.8 250.0,294.7 251.3,294.4 252.4,293.8 253.2,293.3 254.0,292.7 254.6,292.3 255.3,291.9 256.0,291.5 256.8,291.0 257.5,290.6 258.2,290.3 258.9,290.0 259.5,289.9 260.2,289.7 261.1,289.7 262.1,289.7 263.1,289.7 264.0,289.7 264.7,289.7Z"/><path d="M215.80,283.70 L196.20,290.90 L215.80,296.90 L215.00,290.45 Z"/></g>
<g filter="url(#ashadow)" fill="#ff9900"><path d="M342.9,288.0 343.8,288.1 345.2,288.2 346.8,288.3 348.4,288.5 349.8,288.6 350.9,288.8 351.6,289.1 352.2,289.3 352.7,289.6 353.3,290.0 354.0,290.4 354.8,290.8 355.4,291.1 356.0,291.5 356.8,291.9 357.6,292.2 358.6,292.6 359.8,292.7 360.9,292.7 362.0,292.5 362.9,292.3 363.7,291.9 364.5,291.5 365.2,291.0 366.0,290.4 366.7,289.7 367.3,289.1 367.8,288.6 368.1,288.2 368.5,287.8 368.9,287.5 369.4,287.1 369.9,286.8 370.4,286.5 370.8,286.2 371.3,286.0 371.9,285.7 372.4,285.5 372.9,285.3 373.3,285.2 373.7,285.1 374.1,285.1 374.6,285.1 375.1,285.2 375.8,285.3 376.5,285.4 377.2,285.6 377.8,285.8 378.3,286.0 378.8,286.3 379.3,286.6 379.9,286.9 380.6,287.3 381.3,287.7 382.0,288.1 382.6,288.4 383.3,288.8 384.0,289.2 384.9,289.6 385.9,289.9 386.9,290.2 387.9,290.4 388.9,290.5 389.8,290.6 390.5,290.7 391.1,290.8 391.5,290.9 391.9,290.9 392.2,291.0 392.4,291.0 392.7,291.0 393.0,291.0 393.5,291.0 394.1,291.1 394.7,291.1 395.2,291.1 395.7,291.1 396.1,291.1 396.3,285.4 396.0,285.3 395.5,285.3 394.9,285.3 394.4,285.3 393.8,285.2 393.4,285.2 393.1,285.2 392.9,285.1 392.9,285.1 392.8,285.1 392.5,285.1 392.1,285.0 391.4,284.9 390.6,284.7 389.8,284.6 389.0,284.4 388.3,284.3 387.7,284.1 387.3,283.9 386.8,283.6 386.2,283.3 385.6,283.0 384.9,282.6 384.3,282.3 383.7,281.9 383.1,281.6 382.4,281.2 381.6,280.8 380.8,280.4 379.8,280.0 378.9,279.7 378.0,279.4 377.0,279.2 376.0,279.0 375.0,278.9 373.9,278.9 372.8,279.0 371.9,279.2 371.0,279.5 370.1,279.8 369.4,280.1 368.7,280.4 367.9,280.8 367.2,281.2 366.5,281.7 365.8,282.2 365.2,282.6 364.5,283.2 363.8,283.8 363.2,284.5 362.7,285.0 362.3,285.5 362.0,285.8 361.8,286.0 361.4,286.2 361.1,286.4 360.7,286.5 360.5,286.6 360.3,286.6 360.2,286.7 360.1,286.6 359.8,286.5 359.4,286.3 358.7,286.1 358.0,285.7 357.2,285.4 356.6,285.2 356.0,284.9 355.2,284.6 354.3,284.2 353.2,283.8 351.9,283.6 350.4,283.4 348.8,283.3 347.0,283.2 345.4,283.2 344.1,283.2 343.1,283.2Z"/><path d="M392.20,281.90 L411.60,289.00 L391.80,294.60 L394.20,288.15 Z"/></g>
<g filter="url(#ashadow)" fill="#ff9900"><path d="M451.8,326.1 451.7,326.6 451.7,327.3 451.7,328.0 451.7,328.7 451.6,329.4 451.5,329.9 451.3,330.4 451.1,330.9 450.8,331.5 450.4,332.3 449.9,333.1 449.5,333.9 449.1,334.8 448.7,335.6 448.3,336.5 447.9,337.4 447.6,338.4 447.3,339.3 447.1,340.1 446.9,340.8 446.8,341.7 446.7,342.6 446.8,343.6 446.9,344.6 447.2,345.6 447.5,346.7 447.9,347.7 448.3,348.7 448.8,349.7 449.3,350.7 449.9,351.7 450.6,352.7 451.2,353.7 451.8,354.5 452.3,355.2 452.7,355.9 453.0,356.6 453.3,357.2 453.5,357.8 453.6,358.2 453.6,358.5 453.6,358.7 453.6,358.9 453.5,359.2 453.2,359.8 452.8,360.4 452.4,361.2 452.0,361.9 451.6,362.6 451.2,363.3 450.8,364.0 450.3,364.9 449.8,365.8 449.4,366.9 449.1,368.0 448.8,369.2 448.7,370.2 448.6,371.2 448.5,372.1 448.4,372.8 448.4,373.5 448.3,374.1 448.3,374.6 448.3,375.0 448.3,375.4 448.3,375.8 448.3,376.3 448.2,376.9 448.2,377.5 448.2,378.0 448.2,378.5 448.1,378.8 453.9,379.2 453.9,378.8 454.0,378.4 454.0,377.8 454.0,377.3 454.1,376.7 454.1,376.2 454.2,375.7 454.2,375.3 454.2,374.9 454.2,374.5 454.3,374.1 454.4,373.6 454.5,372.8 454.6,372.0 454.7,371.1 454.9,370.2 455.1,369.5 455.2,368.9 455.4,368.4 455.7,367.8 456.1,367.2 456.5,366.5 457.0,365.7 457.4,364.9 457.8,364.2 458.2,363.5 458.7,362.6 459.1,361.7 459.5,360.6 459.8,359.3 459.8,358.0 459.6,356.9 459.3,355.9 459.0,354.9 458.6,354.0 458.1,353.1 457.6,352.1 456.9,351.1 456.3,350.1 455.6,349.3 455.1,348.5 454.7,347.7 454.3,347.0 453.9,346.1 453.5,345.3 453.3,344.6 453.0,343.9 452.9,343.4 452.8,343.0 452.8,342.6 452.8,342.3 452.9,341.9 453.0,341.4 453.1,340.7 453.2,340.1 453.4,339.3 453.7,338.5 453.9,337.7 454.2,336.8 454.5,336.1 454.8,335.3 455.1,334.6 455.4,333.9 455.8,333.0 456.2,332.1 456.5,331.1 456.7,330.0 456.7,329.0 456.7,328.0 456.7,327.2 456.7,326.5 456.6,326.1Z"/><path d="M444.30,374.60 L450.30,393.60 L457.40,374.90 L451.14,377.00 Z"/></g>
<g filter="url(#ashadow)" fill="#ff9900"><path d="M413.4,414.6 412.6,414.5 411.6,414.5 410.4,414.5 409.2,414.5 408.1,414.5 407.2,414.4 406.5,414.3 405.9,414.1 405.3,414.0 404.7,413.7 404.1,413.5 403.5,413.3 403.0,413.0 402.5,412.7 401.8,412.3 401.1,411.9 400.3,411.4 399.3,411.1 398.4,410.9 397.5,410.8 396.7,410.7 396.0,410.8 395.4,410.8 394.9,410.8 394.4,410.8 393.8,410.8 393.0,410.8 392.0,410.9 390.8,411.2 389.6,411.7 388.4,412.4 387.4,413.2 386.5,414.0 385.7,414.8 384.8,415.6 384.0,416.3 383.1,417.0 382.1,417.9 381.2,418.7 380.4,419.3 379.8,419.7 379.5,419.9 379.6,419.9 379.6,419.9 379.5,419.8 379.1,419.6 378.5,419.3 377.8,419.0 377.3,418.8 377.0,418.6 376.5,418.3 375.8,417.9 375.0,417.4 374.0,417.0 372.9,416.6 371.7,416.3 370.4,415.9 369.2,415.6 368.1,415.3 367.1,415.1 366.4,414.9 365.8,414.8 365.2,414.7 364.7,414.7 364.2,414.6 363.7,414.6 363.0,414.6 362.3,414.6 361.7,414.6 361.1,414.6 360.7,414.7 360.4,414.7 360.6,420.5 361.0,420.4 361.4,420.4 361.9,420.4 362.5,420.4 362.9,420.4 363.3,420.4 363.7,420.5 364.0,420.5 364.3,420.5 364.6,420.6 365.0,420.7 365.7,420.9 366.5,421.1 367.6,421.5 368.8,421.8 369.9,422.2 371.0,422.5 371.8,422.8 372.3,423.0 372.8,423.3 373.2,423.5 373.8,423.9 374.5,424.3 375.2,424.6 375.8,424.9 376.4,425.2 377.3,425.6 378.5,425.9 379.9,426.0 381.5,425.7 382.9,425.1 384.1,424.3 385.2,423.4 386.2,422.5 387.1,421.7 388.0,420.9 388.9,420.2 389.8,419.3 390.7,418.5 391.4,417.9 392.0,417.4 392.4,417.1 392.7,417.0 392.9,417.0 393.2,416.9 393.7,416.9 394.3,417.0 395.1,417.0 395.8,416.9 396.3,416.9 396.8,416.9 397.1,416.9 397.4,416.9 397.7,416.9 398.0,417.0 398.4,417.2 399.0,417.5 399.8,417.8 400.6,418.2 401.5,418.5 402.3,418.8 403.1,419.0 403.9,419.2 404.8,419.3 405.7,419.5 406.8,419.6 407.9,419.6 409.2,419.6 410.5,419.6 411.7,419.5 412.7,419.5 413.4,419.4Z"/><path d="M364.30,410.60 L345.60,418.50 L365.00,424.00 L362.50,417.52 Z"/></g>
<g filter="url(#ashadow)" fill="#ff9900"><path d="M265.7,418.5 265.0,418.4 263.9,418.5 262.6,418.5 261.3,418.4 260.2,418.4 259.3,418.3 258.8,418.2 258.4,418.0 258.0,417.8 257.4,417.5 256.7,417.2 255.9,416.8 255.1,416.5 254.2,416.2 253.3,415.9 252.3,415.6 251.3,415.3 250.2,415.2 249.1,415.2 248.1,415.2 247.2,415.4 246.3,415.7 245.5,416.0 244.7,416.3 243.8,416.8 243.0,417.3 242.2,417.8 241.5,418.4 240.8,418.8 240.2,419.3 239.6,419.8 238.9,420.3 238.2,420.7 237.5,421.2 236.8,421.8 236.1,422.3 235.4,422.9 234.7,423.5 234.1,424.0 233.6,424.4 233.2,424.7 232.9,424.9 232.6,425.1 232.3,425.2 232.1,425.3 231.9,425.3 231.7,425.3 231.6,425.3 231.3,425.2 230.9,425.0 230.3,424.7 229.6,424.3 228.8,423.9 228.1,423.5 227.5,423.2 226.9,422.9 226.2,422.6 225.5,422.2 224.7,421.8 223.7,421.5 222.8,421.3 221.8,421.2 220.9,421.1 220.1,421.0 219.3,421.0 218.8,420.9 218.3,420.9 217.8,420.8 217.4,420.8 216.9,420.7 216.4,420.7 215.8,420.7 215.2,420.7 214.5,420.7 213.9,420.8 213.3,420.8 212.9,420.9 212.6,420.9 213.0,426.7 213.4,426.7 213.9,426.6 214.4,426.6 214.9,426.5 215.4,426.5 215.8,426.5 216.0,426.5 216.3,426.6 216.6,426.6 217.0,426.7 217.4,426.8 218.0,426.9 218.8,426.9 219.5,427.0 220.3,427.1 221.0,427.2 221.6,427.3 222.1,427.5 222.5,427.6 222.9,427.8 223.4,428.1 224.0,428.4 224.6,428.7 225.3,429.1 226.0,429.4 226.7,429.8 227.4,430.2 228.3,430.6 229.3,431.0 230.4,431.3 231.5,431.4 232.5,431.4 233.4,431.3 234.3,431.0 235.1,430.7 235.9,430.3 236.7,429.8 237.5,429.2 238.2,428.6 238.8,428.0 239.4,427.6 239.9,427.1 240.5,426.7 241.1,426.2 241.8,425.7 242.4,425.3 243.1,424.8 243.8,424.3 244.5,423.8 245.2,423.3 245.8,422.8 246.4,422.4 246.8,422.1 247.3,421.9 247.8,421.7 248.2,421.5 248.7,421.4 249.0,421.3 249.4,421.3 249.8,421.2 250.3,421.3 250.9,421.4 251.7,421.5 252.5,421.7 253.3,422.0 254.1,422.2 254.7,422.3 255.2,422.5 255.8,422.8 256.6,423.0 257.6,423.3 258.7,423.5 259.9,423.6 261.3,423.6 262.7,423.5 264.0,423.4 265.1,423.4 265.9,423.3Z"/><path d="M216.60,417.00 L198.20,425.30 L217.30,430.10 L214.80,423.66 Z"/></g>
<g filter="url(#ashadow)" fill="#ff9900"><path d="M301.0,453.0 301.0,453.6 301.0,454.4 301.0,455.3 301.0,456.2 301.0,457.1 300.9,457.8 300.7,458.4 300.4,459.1 300.1,460.0 299.7,460.8 299.3,461.8 298.9,462.8 298.6,463.6 298.3,464.5 297.9,465.5 297.6,466.5 297.4,467.6 297.3,468.8 297.3,469.9 297.3,471.0 297.5,472.1 297.8,473.2 298.1,474.2 298.5,475.3 299.1,476.3 299.7,477.3 300.3,478.2 301.0,478.9 301.5,479.6 302.0,480.3 302.6,481.1 303.3,482.0 303.9,482.7 304.3,483.3 304.6,483.8 304.7,484.2 304.8,484.6 304.8,485.1 304.8,485.8 304.7,486.5 304.6,487.3 304.4,488.0 304.2,488.6 304.0,489.1 303.7,489.7 303.3,490.5 302.8,491.5 302.4,492.6 302.1,493.7 301.9,494.8 301.7,495.9 301.6,497.0 301.4,497.9 301.3,498.8 301.2,499.6 301.2,500.4 301.2,501.0 301.2,501.6 301.3,502.0 301.3,502.5 301.3,503.1 301.3,503.7 301.3,504.3 301.3,504.8 301.4,505.3 301.4,505.6 307.2,505.4 307.2,505.1 307.1,504.6 307.1,504.1 307.1,503.6 307.1,503.0 307.1,502.5 307.1,501.9 307.1,501.5 307.1,501.0 307.2,500.6 307.2,500.2 307.3,499.6 307.4,498.8 307.6,497.9 307.7,497.0 308.0,496.0 308.2,495.2 308.4,494.4 308.6,493.8 308.8,493.2 309.2,492.5 309.6,491.7 310.1,490.7 310.4,489.6 310.6,488.5 310.8,487.5 310.9,486.3 311.0,485.1 310.9,483.8 310.7,482.4 310.1,481.1 309.5,480.0 308.8,479.0 308.1,478.1 307.5,477.4 307.0,476.7 306.4,475.9 305.7,475.1 305.2,474.4 304.7,473.8 304.3,473.2 304.1,472.7 303.9,472.2 303.7,471.5 303.5,470.9 303.4,470.3 303.4,469.6 303.3,469.0 303.4,468.5 303.5,467.8 303.6,467.1 303.8,466.2 304.1,465.3 304.3,464.4 304.5,463.6 304.8,462.8 305.1,461.8 305.4,460.8 305.7,459.8 305.9,458.6 306.1,457.4 306.1,456.3 306.0,455.2 306.0,454.2 305.9,453.4 305.9,452.8Z"/><path d="M297.60,501.90 L305.00,520.60 L311.00,501.10 L304.22,503.50 Z"/></g>
<g fill="#0000ff"><use href="#q63a5" x="147" y="45"/><use href="#q5355" x="160" y="45"/></g>
<g fill="#0000ff"><use href="#q767b" x="286" y="45"/><use href="#q8bb0" x="299" y="45"/></g>
<g fill="#0000ff"><use href="#q8c03" x="273" y="175"/><use href="#q8fd0" x="286" y="175"/><use href="#q5b89" x="299" y="175"/><use href="#q6392" x="312" y="175"/></g>
<g fill="#0000ff"><use href="#q8f66" x="129" y="311"/><use href="#q961f" x="142" y="311"/><use href="#q4ea4" x="155" y="311"/><use href="#q63a5" x="168" y="311"/></g>
<g fill="#0000ff"><use href="#q4ed3" x="289" y="304"/><use href="#q5e93" x="302" y="304"/></g>
<g fill="#0000ff"><use href="#q63d0" x="426" y="308"/><use href="#q8d27" x="439" y="308"/><use href="#q53d1" x="452" y="308"/><use href="#q8fd0" x="465" y="308"/></g>
<g fill="#0000ff"><use href="#q8ddf" x="427" y="434"/><use href="#q8e2a" x="440" y="434"/><use href="#q670d" x="453" y="434"/><use href="#q52a1" x="466" y="434"/></g>
<g fill="#0000ff"><use href="#q5230" x="271" y="435"/><use href="#q8fbe" x="284" y="435"/><use href="#q76ee" x="297" y="435"/><use href="#q7684" x="310" y="435"/><use href="#q5730" x="323" y="435"/></g>
<g fill="#0000ff"><use href="#q56de" x="139" y="444"/><use href="#q5355" x="165" y="444"/></g>
<g fill="#0000ff"><use href="#q7b7e" x="284" y="563"/></g>
<g fill="#0000ff"><use href="#q6536" x="312" y="563"/></g>
<g fill="#000"><use href="#q201c" x="343" y="37"/></g>
<g fill="#ff6600"><use href="#q8c03" x="356" y="37"/><use href="#q5ea6" x="369" y="37"/><use href="#q5b89" x="382" y="37"/><use href="#q6392" x="395" y="37"/></g>
<g fill="#000"><use href="#q201d" x="408" y="37"/><use href="#q662f" x="421" y="37"/><use href="#q6574" x="434" y="37"/><use href="#q4e2a" x="447" y="37"/></g>
<g fill="#000"><use href="#q7269" x="343" y="58"/><use href="#q6d41" x="356" y="58"/><use href="#q8fc7" x="369" y="58"/><use href="#q7a0b" x="382" y="58"/><use href="#q4e2d" x="395" y="58"/><use href="#q7684" x="408" y="58"/><use href="#q6838" x="421" y="58"/><use href="#q5fc3" x="434" y="58"/><use href="#qff0c" x="450" y="55"/></g>
<g fill="#000"><use href="#q786e" x="343" y="79"/><use href="#q4fdd" x="356" y="79"/><use href="#q6bcf" x="369" y="79"/><use href="#q6b21" x="382" y="79"/><use href="#q8fd0" x="395" y="79"/><use href="#q8f93" x="408" y="79"/><use href="#q5b89" x="421" y="79"/><use href="#q5168" x="434" y="79"/><use href="#qff0c" x="450" y="76"/><use href="#q5feb" x="460" y="79"/><use href="#q901f" x="473" y="79"/></g>
<g fill="#000"><use href="#q201c" x="207" y="204"/></g>
<g fill="#ff6600"><use href="#q4ed3" x="220" y="204"/><use href="#q5e93" x="233" y="204"/></g>
<g fill="#000"><use href="#q201d" x="246" y="204"/></g>
<g fill="#000"><use href="#q4e2d" x="207" y="225"/><use href="#q8f6c" x="220" y="225"/><use href="#q4e2d" x="233" y="225"/><use href="#q5fc3" x="246" y="225"/></g>
<g fill="#000"><use href="#q201c" x="343" y="461"/><use href="#q76ee" x="356" y="461"/><use href="#q7684" x="369" y="461"/><use href="#q5730" x="382" y="461"/><use href="#q201d" x="395" y="461"/></g>
<g fill="#000"><use href="#q6211" x="343" y="482"/><use href="#q4eec" x="356" y="482"/><use href="#q7684" x="369" y="482"/><use href="#q670d" x="382" y="482"/><use href="#q52a1" x="395" y="482"/><use href="#q5e76" x="408" y="482"/><use href="#q672a" x="421" y="482"/><use href="#q7ed3" x="434" y="482"/><use href="#q675f" x="447" y="482"/></g>
</svg>
</body></html>
